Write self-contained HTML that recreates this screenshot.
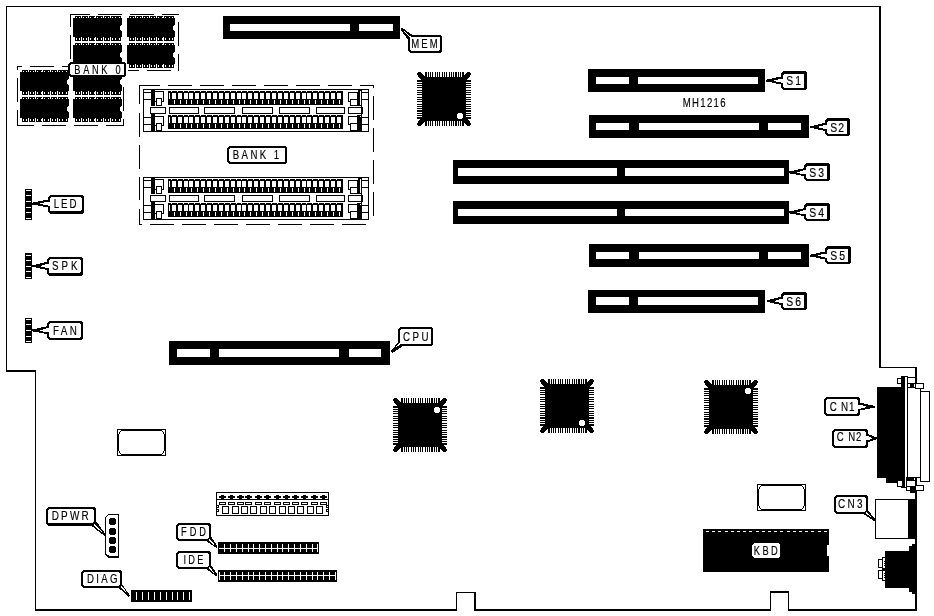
<!DOCTYPE html>
<html><head><meta charset="utf-8"><title>Board</title>
<style>
html,body{margin:0;padding:0;background:#fff;}
svg{display:block;}
text{font-family:"Liberation Sans",sans-serif;stroke:#000;stroke-width:0.18px;}
</style></head>
<body>
<svg width="934" height="616" viewBox="0 0 934 616">
<rect width="934" height="616" fill="#fff"/>
<g shape-rendering="crispEdges">
<rect x="6" y="6" width="875" height="1" fill="#000"/>
<rect x="879" y="6" width="2" height="362" fill="#000"/>
<rect x="879" y="367" width="38" height="1" fill="#000"/>
<rect x="915" y="367" width="2" height="244" fill="#000"/>
<rect x="6" y="6" width="1" height="366" fill="#000"/>
<rect x="6" y="370" width="30" height="2" fill="#000"/>
<rect x="35" y="370" width="1" height="241" fill="#000"/>
<rect x="35" y="609" width="422" height="2" fill="#000"/>
<rect x="456" y="592" width="1" height="19" fill="#000"/>
<rect x="456" y="592" width="20" height="1" fill="#000"/>
<rect x="474" y="592" width="2" height="19" fill="#000"/>
<rect x="474" y="609" width="297" height="2" fill="#000"/>
<rect x="770" y="591" width="1" height="20" fill="#000"/>
<rect x="770" y="591" width="19" height="2" fill="#000"/>
<rect x="788" y="591" width="1" height="20" fill="#000"/>
<rect x="788" y="609" width="129" height="2" fill="#000"/>
<rect x="73" y="18" width="49" height="19" fill="#000"/>
<rect x="75" y="16" width="46" height="2" fill="#000"/>
<rect x="75" y="37" width="46" height="4" fill="#000"/>
<rect x="76" y="17" width="1" height="1" fill="#fff"/>
<rect x="76" y="38" width="1" height="2" fill="#fff"/>
<rect x="79" y="17" width="1" height="1" fill="#fff"/>
<rect x="79" y="38" width="1" height="2" fill="#fff"/>
<rect x="83" y="17" width="1" height="1" fill="#fff"/>
<rect x="83" y="38" width="1" height="2" fill="#fff"/>
<rect x="81" y="16" width="1" height="2" fill="#fff"/>
<rect x="81" y="37" width="1" height="4" fill="#fff"/>
<rect x="86" y="17" width="1" height="1" fill="#fff"/>
<rect x="86" y="38" width="1" height="2" fill="#fff"/>
<rect x="90" y="17" width="1" height="1" fill="#fff"/>
<rect x="90" y="38" width="1" height="2" fill="#fff"/>
<rect x="88" y="16" width="1" height="2" fill="#fff"/>
<rect x="88" y="37" width="1" height="4" fill="#fff"/>
<rect x="94" y="17" width="1" height="1" fill="#fff"/>
<rect x="94" y="38" width="1" height="2" fill="#fff"/>
<rect x="97" y="17" width="1" height="1" fill="#fff"/>
<rect x="97" y="38" width="1" height="2" fill="#fff"/>
<rect x="95" y="16" width="1" height="2" fill="#fff"/>
<rect x="95" y="37" width="1" height="4" fill="#fff"/>
<rect x="101" y="17" width="1" height="1" fill="#fff"/>
<rect x="101" y="38" width="1" height="2" fill="#fff"/>
<rect x="105" y="17" width="1" height="1" fill="#fff"/>
<rect x="105" y="38" width="1" height="2" fill="#fff"/>
<rect x="103" y="16" width="1" height="2" fill="#fff"/>
<rect x="103" y="37" width="1" height="4" fill="#fff"/>
<rect x="108" y="17" width="1" height="1" fill="#fff"/>
<rect x="108" y="38" width="1" height="2" fill="#fff"/>
<rect x="112" y="17" width="1" height="1" fill="#fff"/>
<rect x="112" y="38" width="1" height="2" fill="#fff"/>
<rect x="110" y="16" width="1" height="2" fill="#fff"/>
<rect x="110" y="37" width="1" height="4" fill="#fff"/>
<rect x="115" y="17" width="1" height="1" fill="#fff"/>
<rect x="115" y="38" width="1" height="2" fill="#fff"/>
<rect x="119" y="17" width="1" height="1" fill="#fff"/>
<rect x="119" y="38" width="1" height="2" fill="#fff"/>
<rect x="120" y="26" width="2" height="4" fill="#fff"/>
<rect x="121" y="25" width="1" height="6" fill="#fff"/>
<rect x="127" y="18" width="48" height="19" fill="#000"/>
<rect x="129" y="16" width="45" height="2" fill="#000"/>
<rect x="129" y="37" width="45" height="4" fill="#000"/>
<rect x="130" y="17" width="1" height="1" fill="#fff"/>
<rect x="130" y="38" width="1" height="2" fill="#fff"/>
<rect x="133" y="17" width="1" height="1" fill="#fff"/>
<rect x="133" y="38" width="1" height="2" fill="#fff"/>
<rect x="137" y="17" width="1" height="1" fill="#fff"/>
<rect x="137" y="38" width="1" height="2" fill="#fff"/>
<rect x="135" y="16" width="1" height="2" fill="#fff"/>
<rect x="135" y="37" width="1" height="4" fill="#fff"/>
<rect x="140" y="17" width="1" height="1" fill="#fff"/>
<rect x="140" y="38" width="1" height="2" fill="#fff"/>
<rect x="144" y="17" width="1" height="1" fill="#fff"/>
<rect x="144" y="38" width="1" height="2" fill="#fff"/>
<rect x="142" y="16" width="1" height="2" fill="#fff"/>
<rect x="142" y="37" width="1" height="4" fill="#fff"/>
<rect x="147" y="17" width="1" height="1" fill="#fff"/>
<rect x="147" y="38" width="1" height="2" fill="#fff"/>
<rect x="151" y="17" width="1" height="1" fill="#fff"/>
<rect x="151" y="38" width="1" height="2" fill="#fff"/>
<rect x="149" y="16" width="1" height="2" fill="#fff"/>
<rect x="149" y="37" width="1" height="4" fill="#fff"/>
<rect x="154" y="17" width="1" height="1" fill="#fff"/>
<rect x="154" y="38" width="1" height="2" fill="#fff"/>
<rect x="158" y="17" width="1" height="1" fill="#fff"/>
<rect x="158" y="38" width="1" height="2" fill="#fff"/>
<rect x="156" y="16" width="1" height="2" fill="#fff"/>
<rect x="156" y="37" width="1" height="4" fill="#fff"/>
<rect x="162" y="17" width="1" height="1" fill="#fff"/>
<rect x="162" y="38" width="1" height="2" fill="#fff"/>
<rect x="165" y="17" width="1" height="1" fill="#fff"/>
<rect x="165" y="38" width="1" height="2" fill="#fff"/>
<rect x="163" y="16" width="1" height="2" fill="#fff"/>
<rect x="163" y="37" width="1" height="4" fill="#fff"/>
<rect x="169" y="17" width="1" height="1" fill="#fff"/>
<rect x="169" y="38" width="1" height="2" fill="#fff"/>
<rect x="172" y="17" width="1" height="1" fill="#fff"/>
<rect x="172" y="38" width="1" height="2" fill="#fff"/>
<rect x="173" y="26" width="2" height="4" fill="#fff"/>
<rect x="174" y="25" width="1" height="6" fill="#fff"/>
<rect x="73" y="45" width="49" height="19" fill="#000"/>
<rect x="75" y="43" width="46" height="2" fill="#000"/>
<rect x="75" y="64" width="46" height="4" fill="#000"/>
<rect x="76" y="44" width="1" height="1" fill="#fff"/>
<rect x="76" y="65" width="1" height="2" fill="#fff"/>
<rect x="79" y="44" width="1" height="1" fill="#fff"/>
<rect x="79" y="65" width="1" height="2" fill="#fff"/>
<rect x="83" y="44" width="1" height="1" fill="#fff"/>
<rect x="83" y="65" width="1" height="2" fill="#fff"/>
<rect x="81" y="43" width="1" height="2" fill="#fff"/>
<rect x="81" y="64" width="1" height="4" fill="#fff"/>
<rect x="86" y="44" width="1" height="1" fill="#fff"/>
<rect x="86" y="65" width="1" height="2" fill="#fff"/>
<rect x="90" y="44" width="1" height="1" fill="#fff"/>
<rect x="90" y="65" width="1" height="2" fill="#fff"/>
<rect x="88" y="43" width="1" height="2" fill="#fff"/>
<rect x="88" y="64" width="1" height="4" fill="#fff"/>
<rect x="94" y="44" width="1" height="1" fill="#fff"/>
<rect x="94" y="65" width="1" height="2" fill="#fff"/>
<rect x="97" y="44" width="1" height="1" fill="#fff"/>
<rect x="97" y="65" width="1" height="2" fill="#fff"/>
<rect x="95" y="43" width="1" height="2" fill="#fff"/>
<rect x="95" y="64" width="1" height="4" fill="#fff"/>
<rect x="101" y="44" width="1" height="1" fill="#fff"/>
<rect x="101" y="65" width="1" height="2" fill="#fff"/>
<rect x="105" y="44" width="1" height="1" fill="#fff"/>
<rect x="105" y="65" width="1" height="2" fill="#fff"/>
<rect x="103" y="43" width="1" height="2" fill="#fff"/>
<rect x="103" y="64" width="1" height="4" fill="#fff"/>
<rect x="108" y="44" width="1" height="1" fill="#fff"/>
<rect x="108" y="65" width="1" height="2" fill="#fff"/>
<rect x="112" y="44" width="1" height="1" fill="#fff"/>
<rect x="112" y="65" width="1" height="2" fill="#fff"/>
<rect x="110" y="43" width="1" height="2" fill="#fff"/>
<rect x="110" y="64" width="1" height="4" fill="#fff"/>
<rect x="115" y="44" width="1" height="1" fill="#fff"/>
<rect x="115" y="65" width="1" height="2" fill="#fff"/>
<rect x="119" y="44" width="1" height="1" fill="#fff"/>
<rect x="119" y="65" width="1" height="2" fill="#fff"/>
<rect x="120" y="53" width="2" height="4" fill="#fff"/>
<rect x="121" y="52" width="1" height="6" fill="#fff"/>
<rect x="127" y="45" width="48" height="19" fill="#000"/>
<rect x="129" y="43" width="45" height="2" fill="#000"/>
<rect x="129" y="64" width="45" height="4" fill="#000"/>
<rect x="130" y="44" width="1" height="1" fill="#fff"/>
<rect x="130" y="65" width="1" height="2" fill="#fff"/>
<rect x="133" y="44" width="1" height="1" fill="#fff"/>
<rect x="133" y="65" width="1" height="2" fill="#fff"/>
<rect x="137" y="44" width="1" height="1" fill="#fff"/>
<rect x="137" y="65" width="1" height="2" fill="#fff"/>
<rect x="135" y="43" width="1" height="2" fill="#fff"/>
<rect x="135" y="64" width="1" height="4" fill="#fff"/>
<rect x="140" y="44" width="1" height="1" fill="#fff"/>
<rect x="140" y="65" width="1" height="2" fill="#fff"/>
<rect x="144" y="44" width="1" height="1" fill="#fff"/>
<rect x="144" y="65" width="1" height="2" fill="#fff"/>
<rect x="142" y="43" width="1" height="2" fill="#fff"/>
<rect x="142" y="64" width="1" height="4" fill="#fff"/>
<rect x="147" y="44" width="1" height="1" fill="#fff"/>
<rect x="147" y="65" width="1" height="2" fill="#fff"/>
<rect x="151" y="44" width="1" height="1" fill="#fff"/>
<rect x="151" y="65" width="1" height="2" fill="#fff"/>
<rect x="149" y="43" width="1" height="2" fill="#fff"/>
<rect x="149" y="64" width="1" height="4" fill="#fff"/>
<rect x="154" y="44" width="1" height="1" fill="#fff"/>
<rect x="154" y="65" width="1" height="2" fill="#fff"/>
<rect x="158" y="44" width="1" height="1" fill="#fff"/>
<rect x="158" y="65" width="1" height="2" fill="#fff"/>
<rect x="156" y="43" width="1" height="2" fill="#fff"/>
<rect x="156" y="64" width="1" height="4" fill="#fff"/>
<rect x="162" y="44" width="1" height="1" fill="#fff"/>
<rect x="162" y="65" width="1" height="2" fill="#fff"/>
<rect x="165" y="44" width="1" height="1" fill="#fff"/>
<rect x="165" y="65" width="1" height="2" fill="#fff"/>
<rect x="163" y="43" width="1" height="2" fill="#fff"/>
<rect x="163" y="64" width="1" height="4" fill="#fff"/>
<rect x="169" y="44" width="1" height="1" fill="#fff"/>
<rect x="169" y="65" width="1" height="2" fill="#fff"/>
<rect x="172" y="44" width="1" height="1" fill="#fff"/>
<rect x="172" y="65" width="1" height="2" fill="#fff"/>
<rect x="173" y="53" width="2" height="4" fill="#fff"/>
<rect x="174" y="52" width="1" height="6" fill="#fff"/>
<rect x="20" y="72" width="49" height="19" fill="#000"/>
<rect x="22" y="70" width="46" height="2" fill="#000"/>
<rect x="22" y="91" width="46" height="4" fill="#000"/>
<rect x="23" y="71" width="1" height="1" fill="#fff"/>
<rect x="23" y="92" width="1" height="2" fill="#fff"/>
<rect x="26" y="71" width="1" height="1" fill="#fff"/>
<rect x="26" y="92" width="1" height="2" fill="#fff"/>
<rect x="30" y="71" width="1" height="1" fill="#fff"/>
<rect x="30" y="92" width="1" height="2" fill="#fff"/>
<rect x="28" y="70" width="1" height="2" fill="#fff"/>
<rect x="28" y="91" width="1" height="4" fill="#fff"/>
<rect x="33" y="71" width="1" height="1" fill="#fff"/>
<rect x="33" y="92" width="1" height="2" fill="#fff"/>
<rect x="37" y="71" width="1" height="1" fill="#fff"/>
<rect x="37" y="92" width="1" height="2" fill="#fff"/>
<rect x="35" y="70" width="1" height="2" fill="#fff"/>
<rect x="35" y="91" width="1" height="4" fill="#fff"/>
<rect x="41" y="71" width="1" height="1" fill="#fff"/>
<rect x="41" y="92" width="1" height="2" fill="#fff"/>
<rect x="44" y="71" width="1" height="1" fill="#fff"/>
<rect x="44" y="92" width="1" height="2" fill="#fff"/>
<rect x="42" y="70" width="1" height="2" fill="#fff"/>
<rect x="42" y="91" width="1" height="4" fill="#fff"/>
<rect x="48" y="71" width="1" height="1" fill="#fff"/>
<rect x="48" y="92" width="1" height="2" fill="#fff"/>
<rect x="52" y="71" width="1" height="1" fill="#fff"/>
<rect x="52" y="92" width="1" height="2" fill="#fff"/>
<rect x="50" y="70" width="1" height="2" fill="#fff"/>
<rect x="50" y="91" width="1" height="4" fill="#fff"/>
<rect x="55" y="71" width="1" height="1" fill="#fff"/>
<rect x="55" y="92" width="1" height="2" fill="#fff"/>
<rect x="59" y="71" width="1" height="1" fill="#fff"/>
<rect x="59" y="92" width="1" height="2" fill="#fff"/>
<rect x="57" y="70" width="1" height="2" fill="#fff"/>
<rect x="57" y="91" width="1" height="4" fill="#fff"/>
<rect x="62" y="71" width="1" height="1" fill="#fff"/>
<rect x="62" y="92" width="1" height="2" fill="#fff"/>
<rect x="66" y="71" width="1" height="1" fill="#fff"/>
<rect x="66" y="92" width="1" height="2" fill="#fff"/>
<rect x="67" y="80" width="2" height="4" fill="#fff"/>
<rect x="68" y="79" width="1" height="6" fill="#fff"/>
<rect x="73" y="72" width="49" height="19" fill="#000"/>
<rect x="75" y="70" width="46" height="2" fill="#000"/>
<rect x="75" y="91" width="46" height="4" fill="#000"/>
<rect x="76" y="71" width="1" height="1" fill="#fff"/>
<rect x="76" y="92" width="1" height="2" fill="#fff"/>
<rect x="79" y="71" width="1" height="1" fill="#fff"/>
<rect x="79" y="92" width="1" height="2" fill="#fff"/>
<rect x="83" y="71" width="1" height="1" fill="#fff"/>
<rect x="83" y="92" width="1" height="2" fill="#fff"/>
<rect x="81" y="70" width="1" height="2" fill="#fff"/>
<rect x="81" y="91" width="1" height="4" fill="#fff"/>
<rect x="86" y="71" width="1" height="1" fill="#fff"/>
<rect x="86" y="92" width="1" height="2" fill="#fff"/>
<rect x="90" y="71" width="1" height="1" fill="#fff"/>
<rect x="90" y="92" width="1" height="2" fill="#fff"/>
<rect x="88" y="70" width="1" height="2" fill="#fff"/>
<rect x="88" y="91" width="1" height="4" fill="#fff"/>
<rect x="94" y="71" width="1" height="1" fill="#fff"/>
<rect x="94" y="92" width="1" height="2" fill="#fff"/>
<rect x="97" y="71" width="1" height="1" fill="#fff"/>
<rect x="97" y="92" width="1" height="2" fill="#fff"/>
<rect x="95" y="70" width="1" height="2" fill="#fff"/>
<rect x="95" y="91" width="1" height="4" fill="#fff"/>
<rect x="101" y="71" width="1" height="1" fill="#fff"/>
<rect x="101" y="92" width="1" height="2" fill="#fff"/>
<rect x="105" y="71" width="1" height="1" fill="#fff"/>
<rect x="105" y="92" width="1" height="2" fill="#fff"/>
<rect x="103" y="70" width="1" height="2" fill="#fff"/>
<rect x="103" y="91" width="1" height="4" fill="#fff"/>
<rect x="108" y="71" width="1" height="1" fill="#fff"/>
<rect x="108" y="92" width="1" height="2" fill="#fff"/>
<rect x="112" y="71" width="1" height="1" fill="#fff"/>
<rect x="112" y="92" width="1" height="2" fill="#fff"/>
<rect x="110" y="70" width="1" height="2" fill="#fff"/>
<rect x="110" y="91" width="1" height="4" fill="#fff"/>
<rect x="115" y="71" width="1" height="1" fill="#fff"/>
<rect x="115" y="92" width="1" height="2" fill="#fff"/>
<rect x="119" y="71" width="1" height="1" fill="#fff"/>
<rect x="119" y="92" width="1" height="2" fill="#fff"/>
<rect x="120" y="80" width="2" height="4" fill="#fff"/>
<rect x="121" y="79" width="1" height="6" fill="#fff"/>
<rect x="20" y="99" width="49" height="19" fill="#000"/>
<rect x="22" y="97" width="46" height="2" fill="#000"/>
<rect x="22" y="118" width="46" height="4" fill="#000"/>
<rect x="23" y="98" width="1" height="1" fill="#fff"/>
<rect x="23" y="119" width="1" height="2" fill="#fff"/>
<rect x="26" y="98" width="1" height="1" fill="#fff"/>
<rect x="26" y="119" width="1" height="2" fill="#fff"/>
<rect x="30" y="98" width="1" height="1" fill="#fff"/>
<rect x="30" y="119" width="1" height="2" fill="#fff"/>
<rect x="28" y="97" width="1" height="2" fill="#fff"/>
<rect x="28" y="118" width="1" height="4" fill="#fff"/>
<rect x="33" y="98" width="1" height="1" fill="#fff"/>
<rect x="33" y="119" width="1" height="2" fill="#fff"/>
<rect x="37" y="98" width="1" height="1" fill="#fff"/>
<rect x="37" y="119" width="1" height="2" fill="#fff"/>
<rect x="35" y="97" width="1" height="2" fill="#fff"/>
<rect x="35" y="118" width="1" height="4" fill="#fff"/>
<rect x="41" y="98" width="1" height="1" fill="#fff"/>
<rect x="41" y="119" width="1" height="2" fill="#fff"/>
<rect x="44" y="98" width="1" height="1" fill="#fff"/>
<rect x="44" y="119" width="1" height="2" fill="#fff"/>
<rect x="42" y="97" width="1" height="2" fill="#fff"/>
<rect x="42" y="118" width="1" height="4" fill="#fff"/>
<rect x="48" y="98" width="1" height="1" fill="#fff"/>
<rect x="48" y="119" width="1" height="2" fill="#fff"/>
<rect x="52" y="98" width="1" height="1" fill="#fff"/>
<rect x="52" y="119" width="1" height="2" fill="#fff"/>
<rect x="50" y="97" width="1" height="2" fill="#fff"/>
<rect x="50" y="118" width="1" height="4" fill="#fff"/>
<rect x="55" y="98" width="1" height="1" fill="#fff"/>
<rect x="55" y="119" width="1" height="2" fill="#fff"/>
<rect x="59" y="98" width="1" height="1" fill="#fff"/>
<rect x="59" y="119" width="1" height="2" fill="#fff"/>
<rect x="57" y="97" width="1" height="2" fill="#fff"/>
<rect x="57" y="118" width="1" height="4" fill="#fff"/>
<rect x="62" y="98" width="1" height="1" fill="#fff"/>
<rect x="62" y="119" width="1" height="2" fill="#fff"/>
<rect x="66" y="98" width="1" height="1" fill="#fff"/>
<rect x="66" y="119" width="1" height="2" fill="#fff"/>
<rect x="67" y="107" width="2" height="4" fill="#fff"/>
<rect x="68" y="106" width="1" height="6" fill="#fff"/>
<rect x="73" y="99" width="49" height="19" fill="#000"/>
<rect x="75" y="97" width="46" height="2" fill="#000"/>
<rect x="75" y="118" width="46" height="4" fill="#000"/>
<rect x="76" y="98" width="1" height="1" fill="#fff"/>
<rect x="76" y="119" width="1" height="2" fill="#fff"/>
<rect x="79" y="98" width="1" height="1" fill="#fff"/>
<rect x="79" y="119" width="1" height="2" fill="#fff"/>
<rect x="83" y="98" width="1" height="1" fill="#fff"/>
<rect x="83" y="119" width="1" height="2" fill="#fff"/>
<rect x="81" y="97" width="1" height="2" fill="#fff"/>
<rect x="81" y="118" width="1" height="4" fill="#fff"/>
<rect x="86" y="98" width="1" height="1" fill="#fff"/>
<rect x="86" y="119" width="1" height="2" fill="#fff"/>
<rect x="90" y="98" width="1" height="1" fill="#fff"/>
<rect x="90" y="119" width="1" height="2" fill="#fff"/>
<rect x="88" y="97" width="1" height="2" fill="#fff"/>
<rect x="88" y="118" width="1" height="4" fill="#fff"/>
<rect x="94" y="98" width="1" height="1" fill="#fff"/>
<rect x="94" y="119" width="1" height="2" fill="#fff"/>
<rect x="97" y="98" width="1" height="1" fill="#fff"/>
<rect x="97" y="119" width="1" height="2" fill="#fff"/>
<rect x="95" y="97" width="1" height="2" fill="#fff"/>
<rect x="95" y="118" width="1" height="4" fill="#fff"/>
<rect x="101" y="98" width="1" height="1" fill="#fff"/>
<rect x="101" y="119" width="1" height="2" fill="#fff"/>
<rect x="105" y="98" width="1" height="1" fill="#fff"/>
<rect x="105" y="119" width="1" height="2" fill="#fff"/>
<rect x="103" y="97" width="1" height="2" fill="#fff"/>
<rect x="103" y="118" width="1" height="4" fill="#fff"/>
<rect x="108" y="98" width="1" height="1" fill="#fff"/>
<rect x="108" y="119" width="1" height="2" fill="#fff"/>
<rect x="112" y="98" width="1" height="1" fill="#fff"/>
<rect x="112" y="119" width="1" height="2" fill="#fff"/>
<rect x="110" y="97" width="1" height="2" fill="#fff"/>
<rect x="110" y="118" width="1" height="4" fill="#fff"/>
<rect x="115" y="98" width="1" height="1" fill="#fff"/>
<rect x="115" y="119" width="1" height="2" fill="#fff"/>
<rect x="119" y="98" width="1" height="1" fill="#fff"/>
<rect x="119" y="119" width="1" height="2" fill="#fff"/>
<rect x="120" y="107" width="2" height="4" fill="#fff"/>
<rect x="121" y="106" width="1" height="6" fill="#fff"/>
<rect x="70" y="14" width="20" height="1" fill="#000"/>
<rect x="98" y="14" width="24" height="1" fill="#000"/>
<rect x="130" y="14" width="24" height="1" fill="#000"/>
<rect x="162" y="14" width="17" height="1" fill="#000"/>
<rect x="178" y="22" width="1" height="24" fill="#000"/>
<rect x="178" y="54" width="1" height="17" fill="#000"/>
<rect x="128" y="70" width="11" height="1" fill="#000"/>
<rect x="147" y="70" width="24" height="1" fill="#000"/>
<rect x="70" y="14" width="1" height="13" fill="#000"/>
<rect x="70" y="35" width="1" height="24" fill="#000"/>
<rect x="17" y="66" width="5" height="1" fill="#000"/>
<rect x="30" y="66" width="24" height="1" fill="#000"/>
<rect x="62" y="66" width="7" height="1" fill="#000"/>
<rect x="17" y="66" width="1" height="4" fill="#000"/>
<rect x="17" y="78" width="1" height="24" fill="#000"/>
<rect x="17" y="110" width="1" height="16" fill="#000"/>
<rect x="17" y="125" width="17" height="1" fill="#000"/>
<rect x="42" y="125" width="24" height="1" fill="#000"/>
<rect x="74" y="125" width="24" height="1" fill="#000"/>
<rect x="106" y="125" width="18" height="1" fill="#000"/>
<rect x="123" y="87" width="1" height="24" fill="#000"/>
<rect x="123" y="119" width="1" height="7" fill="#000"/>
<path d="M70 62L124 62L126 64L126 75L124 77L70 77L68 75L68 64Z" fill="#000" />
<path d="M71 64L123 64L124 65L124 74L123 75L71 75L70 74L70 65Z" fill="#fff" />
<rect x="143" y="89" width="226" height="43" fill="#000"/>
<rect x="144" y="90" width="224" height="41" fill="#fff"/>
<rect x="168" y="91" width="175" height="14" fill="#000"/>
<rect x="169" y="93" width="1" height="6" fill="#fff"/>
<rect x="172" y="93" width="4" height="6" fill="#fff"/>
<rect x="174" y="100" width="1" height="4" fill="#fff"/>
<rect x="171" y="91" width="1" height="1" fill="#fff"/>
<rect x="178" y="93" width="4" height="6" fill="#fff"/>
<rect x="180" y="100" width="1" height="4" fill="#fff"/>
<rect x="177" y="91" width="1" height="1" fill="#fff"/>
<rect x="184" y="93" width="4" height="6" fill="#fff"/>
<rect x="186" y="100" width="1" height="4" fill="#fff"/>
<rect x="183" y="91" width="1" height="1" fill="#fff"/>
<rect x="189" y="93" width="4" height="6" fill="#fff"/>
<rect x="191" y="100" width="1" height="4" fill="#fff"/>
<rect x="188" y="91" width="1" height="1" fill="#fff"/>
<rect x="195" y="93" width="4" height="6" fill="#fff"/>
<rect x="197" y="100" width="1" height="4" fill="#fff"/>
<rect x="194" y="91" width="1" height="1" fill="#fff"/>
<rect x="201" y="93" width="4" height="6" fill="#fff"/>
<rect x="203" y="100" width="1" height="4" fill="#fff"/>
<rect x="200" y="91" width="1" height="1" fill="#fff"/>
<rect x="207" y="93" width="4" height="6" fill="#fff"/>
<rect x="209" y="100" width="1" height="4" fill="#fff"/>
<rect x="206" y="91" width="1" height="1" fill="#fff"/>
<rect x="213" y="93" width="4" height="6" fill="#fff"/>
<rect x="215" y="100" width="1" height="4" fill="#fff"/>
<rect x="212" y="91" width="1" height="1" fill="#fff"/>
<rect x="219" y="93" width="4" height="6" fill="#fff"/>
<rect x="221" y="100" width="1" height="4" fill="#fff"/>
<rect x="218" y="91" width="1" height="1" fill="#fff"/>
<rect x="225" y="93" width="4" height="6" fill="#fff"/>
<rect x="227" y="100" width="1" height="4" fill="#fff"/>
<rect x="224" y="91" width="1" height="1" fill="#fff"/>
<rect x="231" y="93" width="4" height="6" fill="#fff"/>
<rect x="233" y="100" width="1" height="4" fill="#fff"/>
<rect x="230" y="91" width="1" height="1" fill="#fff"/>
<rect x="237" y="93" width="4" height="6" fill="#fff"/>
<rect x="239" y="100" width="1" height="4" fill="#fff"/>
<rect x="236" y="91" width="1" height="1" fill="#fff"/>
<rect x="242" y="93" width="4" height="6" fill="#fff"/>
<rect x="244" y="100" width="1" height="4" fill="#fff"/>
<rect x="241" y="91" width="1" height="1" fill="#fff"/>
<rect x="248" y="93" width="4" height="6" fill="#fff"/>
<rect x="250" y="100" width="1" height="4" fill="#fff"/>
<rect x="247" y="91" width="1" height="1" fill="#fff"/>
<rect x="254" y="93" width="4" height="6" fill="#fff"/>
<rect x="256" y="100" width="1" height="4" fill="#fff"/>
<rect x="253" y="91" width="1" height="1" fill="#fff"/>
<rect x="260" y="93" width="4" height="6" fill="#fff"/>
<rect x="262" y="100" width="1" height="4" fill="#fff"/>
<rect x="259" y="91" width="1" height="1" fill="#fff"/>
<rect x="266" y="93" width="4" height="6" fill="#fff"/>
<rect x="268" y="100" width="1" height="4" fill="#fff"/>
<rect x="265" y="91" width="1" height="1" fill="#fff"/>
<rect x="272" y="93" width="4" height="6" fill="#fff"/>
<rect x="274" y="100" width="1" height="4" fill="#fff"/>
<rect x="271" y="91" width="1" height="1" fill="#fff"/>
<rect x="278" y="93" width="4" height="6" fill="#fff"/>
<rect x="280" y="100" width="1" height="4" fill="#fff"/>
<rect x="277" y="91" width="1" height="1" fill="#fff"/>
<rect x="284" y="93" width="4" height="6" fill="#fff"/>
<rect x="286" y="100" width="1" height="4" fill="#fff"/>
<rect x="283" y="91" width="1" height="1" fill="#fff"/>
<rect x="290" y="93" width="4" height="6" fill="#fff"/>
<rect x="292" y="100" width="1" height="4" fill="#fff"/>
<rect x="289" y="91" width="1" height="1" fill="#fff"/>
<rect x="296" y="93" width="4" height="6" fill="#fff"/>
<rect x="298" y="100" width="1" height="4" fill="#fff"/>
<rect x="295" y="91" width="1" height="1" fill="#fff"/>
<rect x="302" y="93" width="4" height="6" fill="#fff"/>
<rect x="304" y="100" width="1" height="4" fill="#fff"/>
<rect x="301" y="91" width="1" height="1" fill="#fff"/>
<rect x="307" y="93" width="4" height="6" fill="#fff"/>
<rect x="309" y="100" width="1" height="4" fill="#fff"/>
<rect x="306" y="91" width="1" height="1" fill="#fff"/>
<rect x="313" y="93" width="4" height="6" fill="#fff"/>
<rect x="315" y="100" width="1" height="4" fill="#fff"/>
<rect x="312" y="91" width="1" height="1" fill="#fff"/>
<rect x="319" y="93" width="4" height="6" fill="#fff"/>
<rect x="321" y="100" width="1" height="4" fill="#fff"/>
<rect x="318" y="91" width="1" height="1" fill="#fff"/>
<rect x="325" y="93" width="4" height="6" fill="#fff"/>
<rect x="327" y="100" width="1" height="4" fill="#fff"/>
<rect x="324" y="91" width="1" height="1" fill="#fff"/>
<rect x="331" y="93" width="4" height="6" fill="#fff"/>
<rect x="333" y="100" width="1" height="4" fill="#fff"/>
<rect x="330" y="91" width="1" height="1" fill="#fff"/>
<rect x="337" y="93" width="4" height="6" fill="#fff"/>
<rect x="339" y="100" width="1" height="4" fill="#fff"/>
<rect x="336" y="91" width="1" height="1" fill="#fff"/>
<rect x="168" y="115" width="175" height="14" fill="#000"/>
<rect x="169" y="117" width="1" height="6" fill="#fff"/>
<rect x="172" y="117" width="4" height="6" fill="#fff"/>
<rect x="174" y="124" width="1" height="4" fill="#fff"/>
<rect x="171" y="115" width="1" height="1" fill="#fff"/>
<rect x="178" y="117" width="4" height="6" fill="#fff"/>
<rect x="180" y="124" width="1" height="4" fill="#fff"/>
<rect x="177" y="115" width="1" height="1" fill="#fff"/>
<rect x="184" y="117" width="4" height="6" fill="#fff"/>
<rect x="186" y="124" width="1" height="4" fill="#fff"/>
<rect x="183" y="115" width="1" height="1" fill="#fff"/>
<rect x="189" y="117" width="4" height="6" fill="#fff"/>
<rect x="191" y="124" width="1" height="4" fill="#fff"/>
<rect x="188" y="115" width="1" height="1" fill="#fff"/>
<rect x="195" y="117" width="4" height="6" fill="#fff"/>
<rect x="197" y="124" width="1" height="4" fill="#fff"/>
<rect x="194" y="115" width="1" height="1" fill="#fff"/>
<rect x="201" y="117" width="4" height="6" fill="#fff"/>
<rect x="203" y="124" width="1" height="4" fill="#fff"/>
<rect x="200" y="115" width="1" height="1" fill="#fff"/>
<rect x="207" y="117" width="4" height="6" fill="#fff"/>
<rect x="209" y="124" width="1" height="4" fill="#fff"/>
<rect x="206" y="115" width="1" height="1" fill="#fff"/>
<rect x="213" y="117" width="4" height="6" fill="#fff"/>
<rect x="215" y="124" width="1" height="4" fill="#fff"/>
<rect x="212" y="115" width="1" height="1" fill="#fff"/>
<rect x="219" y="117" width="4" height="6" fill="#fff"/>
<rect x="221" y="124" width="1" height="4" fill="#fff"/>
<rect x="218" y="115" width="1" height="1" fill="#fff"/>
<rect x="225" y="117" width="4" height="6" fill="#fff"/>
<rect x="227" y="124" width="1" height="4" fill="#fff"/>
<rect x="224" y="115" width="1" height="1" fill="#fff"/>
<rect x="231" y="117" width="4" height="6" fill="#fff"/>
<rect x="233" y="124" width="1" height="4" fill="#fff"/>
<rect x="230" y="115" width="1" height="1" fill="#fff"/>
<rect x="237" y="117" width="4" height="6" fill="#fff"/>
<rect x="239" y="124" width="1" height="4" fill="#fff"/>
<rect x="236" y="115" width="1" height="1" fill="#fff"/>
<rect x="242" y="117" width="4" height="6" fill="#fff"/>
<rect x="244" y="124" width="1" height="4" fill="#fff"/>
<rect x="241" y="115" width="1" height="1" fill="#fff"/>
<rect x="248" y="117" width="4" height="6" fill="#fff"/>
<rect x="250" y="124" width="1" height="4" fill="#fff"/>
<rect x="247" y="115" width="1" height="1" fill="#fff"/>
<rect x="254" y="117" width="4" height="6" fill="#fff"/>
<rect x="256" y="124" width="1" height="4" fill="#fff"/>
<rect x="253" y="115" width="1" height="1" fill="#fff"/>
<rect x="260" y="117" width="4" height="6" fill="#fff"/>
<rect x="262" y="124" width="1" height="4" fill="#fff"/>
<rect x="259" y="115" width="1" height="1" fill="#fff"/>
<rect x="266" y="117" width="4" height="6" fill="#fff"/>
<rect x="268" y="124" width="1" height="4" fill="#fff"/>
<rect x="265" y="115" width="1" height="1" fill="#fff"/>
<rect x="272" y="117" width="4" height="6" fill="#fff"/>
<rect x="274" y="124" width="1" height="4" fill="#fff"/>
<rect x="271" y="115" width="1" height="1" fill="#fff"/>
<rect x="278" y="117" width="4" height="6" fill="#fff"/>
<rect x="280" y="124" width="1" height="4" fill="#fff"/>
<rect x="277" y="115" width="1" height="1" fill="#fff"/>
<rect x="284" y="117" width="4" height="6" fill="#fff"/>
<rect x="286" y="124" width="1" height="4" fill="#fff"/>
<rect x="283" y="115" width="1" height="1" fill="#fff"/>
<rect x="290" y="117" width="4" height="6" fill="#fff"/>
<rect x="292" y="124" width="1" height="4" fill="#fff"/>
<rect x="289" y="115" width="1" height="1" fill="#fff"/>
<rect x="296" y="117" width="4" height="6" fill="#fff"/>
<rect x="298" y="124" width="1" height="4" fill="#fff"/>
<rect x="295" y="115" width="1" height="1" fill="#fff"/>
<rect x="302" y="117" width="4" height="6" fill="#fff"/>
<rect x="304" y="124" width="1" height="4" fill="#fff"/>
<rect x="301" y="115" width="1" height="1" fill="#fff"/>
<rect x="307" y="117" width="4" height="6" fill="#fff"/>
<rect x="309" y="124" width="1" height="4" fill="#fff"/>
<rect x="306" y="115" width="1" height="1" fill="#fff"/>
<rect x="313" y="117" width="4" height="6" fill="#fff"/>
<rect x="315" y="124" width="1" height="4" fill="#fff"/>
<rect x="312" y="115" width="1" height="1" fill="#fff"/>
<rect x="319" y="117" width="4" height="6" fill="#fff"/>
<rect x="321" y="124" width="1" height="4" fill="#fff"/>
<rect x="318" y="115" width="1" height="1" fill="#fff"/>
<rect x="325" y="117" width="4" height="6" fill="#fff"/>
<rect x="327" y="124" width="1" height="4" fill="#fff"/>
<rect x="324" y="115" width="1" height="1" fill="#fff"/>
<rect x="331" y="117" width="4" height="6" fill="#fff"/>
<rect x="333" y="124" width="1" height="4" fill="#fff"/>
<rect x="330" y="115" width="1" height="1" fill="#fff"/>
<rect x="337" y="117" width="4" height="6" fill="#fff"/>
<rect x="339" y="124" width="1" height="4" fill="#fff"/>
<rect x="336" y="115" width="1" height="1" fill="#fff"/>
<rect x="150" y="107" width="16" height="7" fill="#000"/>
<rect x="151" y="108" width="14" height="5" fill="#fff"/>
<rect x="169" y="107" width="30" height="7" fill="#000"/>
<rect x="170" y="108" width="28" height="5" fill="#fff"/>
<rect x="204" y="107" width="31" height="7" fill="#000"/>
<rect x="205" y="108" width="29" height="5" fill="#fff"/>
<rect x="242" y="107" width="31" height="7" fill="#000"/>
<rect x="243" y="108" width="29" height="5" fill="#fff"/>
<rect x="279" y="107" width="31" height="7" fill="#000"/>
<rect x="280" y="108" width="29" height="5" fill="#fff"/>
<rect x="316" y="107" width="29" height="7" fill="#000"/>
<rect x="317" y="108" width="27" height="5" fill="#fff"/>
<rect x="348" y="107" width="15" height="7" fill="#000"/>
<rect x="349" y="108" width="13" height="5" fill="#fff"/>
<rect x="143" y="92" width="8" height="1" fill="#000"/>
<rect x="143" y="99" width="8" height="1" fill="#000"/>
<rect x="143" y="117" width="8" height="1" fill="#000"/>
<rect x="143" y="124" width="8" height="1" fill="#000"/>
<rect x="151" y="89" width="4" height="17" fill="#000"/>
<rect x="151" y="114" width="4" height="18" fill="#000"/>
<rect x="154" y="91" width="10" height="11" fill="#000"/>
<rect x="155" y="92" width="8" height="9" fill="#fff"/>
<rect x="156" y="98" width="6" height="8" fill="#000"/>
<rect x="157" y="99" width="4" height="6" fill="#fff"/>
<rect x="154" y="116" width="10" height="10" fill="#000"/>
<rect x="155" y="117" width="8" height="8" fill="#fff"/>
<rect x="156" y="123" width="6" height="8" fill="#000"/>
<rect x="157" y="124" width="4" height="6" fill="#fff"/>
<rect x="362" y="92" width="7" height="1" fill="#000"/>
<rect x="362" y="99" width="7" height="1" fill="#000"/>
<rect x="362" y="117" width="7" height="1" fill="#000"/>
<rect x="362" y="124" width="7" height="1" fill="#000"/>
<rect x="361" y="89" width="1" height="43" fill="#000"/>
<rect x="358" y="89" width="3" height="17" fill="#000"/>
<rect x="360" y="91" width="1" height="14" fill="#fff"/>
<rect x="357" y="115" width="4" height="17" fill="#000"/>
<rect x="360" y="116" width="1" height="1" fill="#fff"/>
<rect x="348" y="92" width="10" height="10" fill="#000"/>
<rect x="349" y="93" width="8" height="8" fill="#fff"/>
<rect x="350" y="99" width="8" height="7" fill="#000"/>
<rect x="351" y="100" width="6" height="5" fill="#fff"/>
<rect x="348" y="116" width="10" height="9" fill="#000"/>
<rect x="349" y="117" width="8" height="7" fill="#fff"/>
<rect x="350" y="123" width="8" height="8" fill="#000"/>
<rect x="351" y="124" width="6" height="6" fill="#fff"/>
<rect x="143" y="177" width="226" height="43" fill="#000"/>
<rect x="144" y="178" width="224" height="41" fill="#fff"/>
<rect x="168" y="179" width="175" height="14" fill="#000"/>
<rect x="169" y="181" width="1" height="6" fill="#fff"/>
<rect x="172" y="181" width="4" height="6" fill="#fff"/>
<rect x="174" y="188" width="1" height="4" fill="#fff"/>
<rect x="171" y="179" width="1" height="1" fill="#fff"/>
<rect x="178" y="181" width="4" height="6" fill="#fff"/>
<rect x="180" y="188" width="1" height="4" fill="#fff"/>
<rect x="177" y="179" width="1" height="1" fill="#fff"/>
<rect x="184" y="181" width="4" height="6" fill="#fff"/>
<rect x="186" y="188" width="1" height="4" fill="#fff"/>
<rect x="183" y="179" width="1" height="1" fill="#fff"/>
<rect x="189" y="181" width="4" height="6" fill="#fff"/>
<rect x="191" y="188" width="1" height="4" fill="#fff"/>
<rect x="188" y="179" width="1" height="1" fill="#fff"/>
<rect x="195" y="181" width="4" height="6" fill="#fff"/>
<rect x="197" y="188" width="1" height="4" fill="#fff"/>
<rect x="194" y="179" width="1" height="1" fill="#fff"/>
<rect x="201" y="181" width="4" height="6" fill="#fff"/>
<rect x="203" y="188" width="1" height="4" fill="#fff"/>
<rect x="200" y="179" width="1" height="1" fill="#fff"/>
<rect x="207" y="181" width="4" height="6" fill="#fff"/>
<rect x="209" y="188" width="1" height="4" fill="#fff"/>
<rect x="206" y="179" width="1" height="1" fill="#fff"/>
<rect x="213" y="181" width="4" height="6" fill="#fff"/>
<rect x="215" y="188" width="1" height="4" fill="#fff"/>
<rect x="212" y="179" width="1" height="1" fill="#fff"/>
<rect x="219" y="181" width="4" height="6" fill="#fff"/>
<rect x="221" y="188" width="1" height="4" fill="#fff"/>
<rect x="218" y="179" width="1" height="1" fill="#fff"/>
<rect x="225" y="181" width="4" height="6" fill="#fff"/>
<rect x="227" y="188" width="1" height="4" fill="#fff"/>
<rect x="224" y="179" width="1" height="1" fill="#fff"/>
<rect x="231" y="181" width="4" height="6" fill="#fff"/>
<rect x="233" y="188" width="1" height="4" fill="#fff"/>
<rect x="230" y="179" width="1" height="1" fill="#fff"/>
<rect x="237" y="181" width="4" height="6" fill="#fff"/>
<rect x="239" y="188" width="1" height="4" fill="#fff"/>
<rect x="236" y="179" width="1" height="1" fill="#fff"/>
<rect x="242" y="181" width="4" height="6" fill="#fff"/>
<rect x="244" y="188" width="1" height="4" fill="#fff"/>
<rect x="241" y="179" width="1" height="1" fill="#fff"/>
<rect x="248" y="181" width="4" height="6" fill="#fff"/>
<rect x="250" y="188" width="1" height="4" fill="#fff"/>
<rect x="247" y="179" width="1" height="1" fill="#fff"/>
<rect x="254" y="181" width="4" height="6" fill="#fff"/>
<rect x="256" y="188" width="1" height="4" fill="#fff"/>
<rect x="253" y="179" width="1" height="1" fill="#fff"/>
<rect x="260" y="181" width="4" height="6" fill="#fff"/>
<rect x="262" y="188" width="1" height="4" fill="#fff"/>
<rect x="259" y="179" width="1" height="1" fill="#fff"/>
<rect x="266" y="181" width="4" height="6" fill="#fff"/>
<rect x="268" y="188" width="1" height="4" fill="#fff"/>
<rect x="265" y="179" width="1" height="1" fill="#fff"/>
<rect x="272" y="181" width="4" height="6" fill="#fff"/>
<rect x="274" y="188" width="1" height="4" fill="#fff"/>
<rect x="271" y="179" width="1" height="1" fill="#fff"/>
<rect x="278" y="181" width="4" height="6" fill="#fff"/>
<rect x="280" y="188" width="1" height="4" fill="#fff"/>
<rect x="277" y="179" width="1" height="1" fill="#fff"/>
<rect x="284" y="181" width="4" height="6" fill="#fff"/>
<rect x="286" y="188" width="1" height="4" fill="#fff"/>
<rect x="283" y="179" width="1" height="1" fill="#fff"/>
<rect x="290" y="181" width="4" height="6" fill="#fff"/>
<rect x="292" y="188" width="1" height="4" fill="#fff"/>
<rect x="289" y="179" width="1" height="1" fill="#fff"/>
<rect x="296" y="181" width="4" height="6" fill="#fff"/>
<rect x="298" y="188" width="1" height="4" fill="#fff"/>
<rect x="295" y="179" width="1" height="1" fill="#fff"/>
<rect x="302" y="181" width="4" height="6" fill="#fff"/>
<rect x="304" y="188" width="1" height="4" fill="#fff"/>
<rect x="301" y="179" width="1" height="1" fill="#fff"/>
<rect x="307" y="181" width="4" height="6" fill="#fff"/>
<rect x="309" y="188" width="1" height="4" fill="#fff"/>
<rect x="306" y="179" width="1" height="1" fill="#fff"/>
<rect x="313" y="181" width="4" height="6" fill="#fff"/>
<rect x="315" y="188" width="1" height="4" fill="#fff"/>
<rect x="312" y="179" width="1" height="1" fill="#fff"/>
<rect x="319" y="181" width="4" height="6" fill="#fff"/>
<rect x="321" y="188" width="1" height="4" fill="#fff"/>
<rect x="318" y="179" width="1" height="1" fill="#fff"/>
<rect x="325" y="181" width="4" height="6" fill="#fff"/>
<rect x="327" y="188" width="1" height="4" fill="#fff"/>
<rect x="324" y="179" width="1" height="1" fill="#fff"/>
<rect x="331" y="181" width="4" height="6" fill="#fff"/>
<rect x="333" y="188" width="1" height="4" fill="#fff"/>
<rect x="330" y="179" width="1" height="1" fill="#fff"/>
<rect x="337" y="181" width="4" height="6" fill="#fff"/>
<rect x="339" y="188" width="1" height="4" fill="#fff"/>
<rect x="336" y="179" width="1" height="1" fill="#fff"/>
<rect x="168" y="203" width="175" height="14" fill="#000"/>
<rect x="169" y="205" width="1" height="6" fill="#fff"/>
<rect x="172" y="205" width="4" height="6" fill="#fff"/>
<rect x="174" y="212" width="1" height="4" fill="#fff"/>
<rect x="171" y="203" width="1" height="1" fill="#fff"/>
<rect x="178" y="205" width="4" height="6" fill="#fff"/>
<rect x="180" y="212" width="1" height="4" fill="#fff"/>
<rect x="177" y="203" width="1" height="1" fill="#fff"/>
<rect x="184" y="205" width="4" height="6" fill="#fff"/>
<rect x="186" y="212" width="1" height="4" fill="#fff"/>
<rect x="183" y="203" width="1" height="1" fill="#fff"/>
<rect x="189" y="205" width="4" height="6" fill="#fff"/>
<rect x="191" y="212" width="1" height="4" fill="#fff"/>
<rect x="188" y="203" width="1" height="1" fill="#fff"/>
<rect x="195" y="205" width="4" height="6" fill="#fff"/>
<rect x="197" y="212" width="1" height="4" fill="#fff"/>
<rect x="194" y="203" width="1" height="1" fill="#fff"/>
<rect x="201" y="205" width="4" height="6" fill="#fff"/>
<rect x="203" y="212" width="1" height="4" fill="#fff"/>
<rect x="200" y="203" width="1" height="1" fill="#fff"/>
<rect x="207" y="205" width="4" height="6" fill="#fff"/>
<rect x="209" y="212" width="1" height="4" fill="#fff"/>
<rect x="206" y="203" width="1" height="1" fill="#fff"/>
<rect x="213" y="205" width="4" height="6" fill="#fff"/>
<rect x="215" y="212" width="1" height="4" fill="#fff"/>
<rect x="212" y="203" width="1" height="1" fill="#fff"/>
<rect x="219" y="205" width="4" height="6" fill="#fff"/>
<rect x="221" y="212" width="1" height="4" fill="#fff"/>
<rect x="218" y="203" width="1" height="1" fill="#fff"/>
<rect x="225" y="205" width="4" height="6" fill="#fff"/>
<rect x="227" y="212" width="1" height="4" fill="#fff"/>
<rect x="224" y="203" width="1" height="1" fill="#fff"/>
<rect x="231" y="205" width="4" height="6" fill="#fff"/>
<rect x="233" y="212" width="1" height="4" fill="#fff"/>
<rect x="230" y="203" width="1" height="1" fill="#fff"/>
<rect x="237" y="205" width="4" height="6" fill="#fff"/>
<rect x="239" y="212" width="1" height="4" fill="#fff"/>
<rect x="236" y="203" width="1" height="1" fill="#fff"/>
<rect x="242" y="205" width="4" height="6" fill="#fff"/>
<rect x="244" y="212" width="1" height="4" fill="#fff"/>
<rect x="241" y="203" width="1" height="1" fill="#fff"/>
<rect x="248" y="205" width="4" height="6" fill="#fff"/>
<rect x="250" y="212" width="1" height="4" fill="#fff"/>
<rect x="247" y="203" width="1" height="1" fill="#fff"/>
<rect x="254" y="205" width="4" height="6" fill="#fff"/>
<rect x="256" y="212" width="1" height="4" fill="#fff"/>
<rect x="253" y="203" width="1" height="1" fill="#fff"/>
<rect x="260" y="205" width="4" height="6" fill="#fff"/>
<rect x="262" y="212" width="1" height="4" fill="#fff"/>
<rect x="259" y="203" width="1" height="1" fill="#fff"/>
<rect x="266" y="205" width="4" height="6" fill="#fff"/>
<rect x="268" y="212" width="1" height="4" fill="#fff"/>
<rect x="265" y="203" width="1" height="1" fill="#fff"/>
<rect x="272" y="205" width="4" height="6" fill="#fff"/>
<rect x="274" y="212" width="1" height="4" fill="#fff"/>
<rect x="271" y="203" width="1" height="1" fill="#fff"/>
<rect x="278" y="205" width="4" height="6" fill="#fff"/>
<rect x="280" y="212" width="1" height="4" fill="#fff"/>
<rect x="277" y="203" width="1" height="1" fill="#fff"/>
<rect x="284" y="205" width="4" height="6" fill="#fff"/>
<rect x="286" y="212" width="1" height="4" fill="#fff"/>
<rect x="283" y="203" width="1" height="1" fill="#fff"/>
<rect x="290" y="205" width="4" height="6" fill="#fff"/>
<rect x="292" y="212" width="1" height="4" fill="#fff"/>
<rect x="289" y="203" width="1" height="1" fill="#fff"/>
<rect x="296" y="205" width="4" height="6" fill="#fff"/>
<rect x="298" y="212" width="1" height="4" fill="#fff"/>
<rect x="295" y="203" width="1" height="1" fill="#fff"/>
<rect x="302" y="205" width="4" height="6" fill="#fff"/>
<rect x="304" y="212" width="1" height="4" fill="#fff"/>
<rect x="301" y="203" width="1" height="1" fill="#fff"/>
<rect x="307" y="205" width="4" height="6" fill="#fff"/>
<rect x="309" y="212" width="1" height="4" fill="#fff"/>
<rect x="306" y="203" width="1" height="1" fill="#fff"/>
<rect x="313" y="205" width="4" height="6" fill="#fff"/>
<rect x="315" y="212" width="1" height="4" fill="#fff"/>
<rect x="312" y="203" width="1" height="1" fill="#fff"/>
<rect x="319" y="205" width="4" height="6" fill="#fff"/>
<rect x="321" y="212" width="1" height="4" fill="#fff"/>
<rect x="318" y="203" width="1" height="1" fill="#fff"/>
<rect x="325" y="205" width="4" height="6" fill="#fff"/>
<rect x="327" y="212" width="1" height="4" fill="#fff"/>
<rect x="324" y="203" width="1" height="1" fill="#fff"/>
<rect x="331" y="205" width="4" height="6" fill="#fff"/>
<rect x="333" y="212" width="1" height="4" fill="#fff"/>
<rect x="330" y="203" width="1" height="1" fill="#fff"/>
<rect x="337" y="205" width="4" height="6" fill="#fff"/>
<rect x="339" y="212" width="1" height="4" fill="#fff"/>
<rect x="336" y="203" width="1" height="1" fill="#fff"/>
<rect x="150" y="195" width="16" height="7" fill="#000"/>
<rect x="151" y="196" width="14" height="5" fill="#fff"/>
<rect x="169" y="195" width="30" height="7" fill="#000"/>
<rect x="170" y="196" width="28" height="5" fill="#fff"/>
<rect x="204" y="195" width="31" height="7" fill="#000"/>
<rect x="205" y="196" width="29" height="5" fill="#fff"/>
<rect x="242" y="195" width="31" height="7" fill="#000"/>
<rect x="243" y="196" width="29" height="5" fill="#fff"/>
<rect x="279" y="195" width="31" height="7" fill="#000"/>
<rect x="280" y="196" width="29" height="5" fill="#fff"/>
<rect x="316" y="195" width="29" height="7" fill="#000"/>
<rect x="317" y="196" width="27" height="5" fill="#fff"/>
<rect x="348" y="195" width="15" height="7" fill="#000"/>
<rect x="349" y="196" width="13" height="5" fill="#fff"/>
<rect x="143" y="180" width="8" height="1" fill="#000"/>
<rect x="143" y="187" width="8" height="1" fill="#000"/>
<rect x="143" y="205" width="8" height="1" fill="#000"/>
<rect x="143" y="212" width="8" height="1" fill="#000"/>
<rect x="151" y="177" width="4" height="17" fill="#000"/>
<rect x="151" y="202" width="4" height="18" fill="#000"/>
<rect x="154" y="179" width="10" height="11" fill="#000"/>
<rect x="155" y="180" width="8" height="9" fill="#fff"/>
<rect x="156" y="186" width="6" height="8" fill="#000"/>
<rect x="157" y="187" width="4" height="6" fill="#fff"/>
<rect x="154" y="204" width="10" height="10" fill="#000"/>
<rect x="155" y="205" width="8" height="8" fill="#fff"/>
<rect x="156" y="211" width="6" height="8" fill="#000"/>
<rect x="157" y="212" width="4" height="6" fill="#fff"/>
<rect x="362" y="180" width="7" height="1" fill="#000"/>
<rect x="362" y="187" width="7" height="1" fill="#000"/>
<rect x="362" y="205" width="7" height="1" fill="#000"/>
<rect x="362" y="212" width="7" height="1" fill="#000"/>
<rect x="361" y="177" width="1" height="43" fill="#000"/>
<rect x="358" y="177" width="3" height="17" fill="#000"/>
<rect x="360" y="179" width="1" height="14" fill="#fff"/>
<rect x="357" y="203" width="4" height="17" fill="#000"/>
<rect x="360" y="204" width="1" height="1" fill="#fff"/>
<rect x="348" y="180" width="10" height="10" fill="#000"/>
<rect x="349" y="181" width="8" height="8" fill="#fff"/>
<rect x="350" y="187" width="8" height="7" fill="#000"/>
<rect x="351" y="188" width="6" height="5" fill="#fff"/>
<rect x="348" y="204" width="10" height="9" fill="#000"/>
<rect x="349" y="205" width="8" height="7" fill="#fff"/>
<rect x="350" y="211" width="8" height="8" fill="#000"/>
<rect x="351" y="212" width="6" height="6" fill="#fff"/>
<rect x="139" y="85" width="21" height="1" fill="#000"/>
<rect x="168" y="85" width="24" height="1" fill="#000"/>
<rect x="200" y="85" width="24" height="1" fill="#000"/>
<rect x="232" y="85" width="24" height="1" fill="#000"/>
<rect x="264" y="85" width="24" height="1" fill="#000"/>
<rect x="296" y="85" width="24" height="1" fill="#000"/>
<rect x="328" y="85" width="24" height="1" fill="#000"/>
<rect x="360" y="85" width="14" height="1" fill="#000"/>
<rect x="373" y="85" width="1" height="3" fill="#000"/>
<rect x="373" y="96" width="1" height="24" fill="#000"/>
<rect x="373" y="128" width="1" height="24" fill="#000"/>
<rect x="373" y="160" width="1" height="24" fill="#000"/>
<rect x="373" y="192" width="1" height="24" fill="#000"/>
<rect x="139" y="85" width="1" height="19" fill="#000"/>
<rect x="139" y="113" width="1" height="24" fill="#000"/>
<rect x="139" y="145" width="1" height="24" fill="#000"/>
<rect x="139" y="177" width="1" height="23" fill="#000"/>
<rect x="139" y="209" width="1" height="16" fill="#000"/>
<rect x="139" y="224" width="3" height="1" fill="#000"/>
<rect x="150" y="224" width="24" height="1" fill="#000"/>
<rect x="182" y="224" width="24" height="1" fill="#000"/>
<rect x="214" y="224" width="24" height="1" fill="#000"/>
<rect x="246" y="224" width="24" height="1" fill="#000"/>
<rect x="278" y="224" width="24" height="1" fill="#000"/>
<rect x="310" y="224" width="24" height="1" fill="#000"/>
<rect x="342" y="224" width="24" height="1" fill="#000"/>
<path d="M229 146L285 146L287 148L287 162L285 164L229 164L227 162L227 148Z" fill="#000" />
<path d="M230 148L284 148L285 149L285 161L284 162L230 162L229 161L229 149Z" fill="#fff" />
<rect x="223" y="16" width="177" height="23" fill="#000"/>
<rect x="230" y="24" width="120" height="7" fill="#fff"/>
<rect x="359" y="24" width="34" height="7" fill="#fff"/>
<rect x="588" y="69" width="177" height="23" fill="#000"/>
<rect x="596" y="77" width="33" height="7" fill="#fff"/>
<rect x="638" y="77" width="120" height="7" fill="#fff"/>
<rect x="589" y="115" width="220" height="23" fill="#000"/>
<rect x="596" y="123" width="33" height="7" fill="#fff"/>
<rect x="639" y="123" width="120" height="7" fill="#fff"/>
<rect x="768" y="123" width="33" height="7" fill="#fff"/>
<rect x="453" y="160" width="336" height="24" fill="#000"/>
<rect x="458" y="168" width="159" height="8" fill="#fff"/>
<rect x="625" y="168" width="159" height="8" fill="#fff"/>
<rect x="453" y="201" width="336" height="23" fill="#000"/>
<rect x="458" y="209" width="159" height="7" fill="#fff"/>
<rect x="625" y="209" width="159" height="7" fill="#fff"/>
<rect x="589" y="244" width="220" height="23" fill="#000"/>
<rect x="596" y="252" width="33" height="7" fill="#fff"/>
<rect x="639" y="252" width="120" height="7" fill="#fff"/>
<rect x="768" y="252" width="33" height="7" fill="#fff"/>
<rect x="588" y="290" width="177" height="23" fill="#000"/>
<rect x="596" y="297" width="33" height="8" fill="#fff"/>
<rect x="638" y="297" width="120" height="8" fill="#fff"/>
<rect x="169" y="341" width="221" height="24" fill="#000"/>
<rect x="177" y="349" width="33" height="8" fill="#fff"/>
<rect x="219" y="349" width="120" height="8" fill="#fff"/>
<rect x="349" y="349" width="32" height="8" fill="#fff"/>
<path d="M783 71L805 71L807 73L807 88L805 90L783 90L781 88L781 73Z" fill="#000" />
<path d="M784 74L803 74L804 75L804 87L803 88L784 88L783 87L783 75Z" fill="#fff" />
<path d="M766 79.7L770.05 79.1L773.95 78.1L779.05 76.9L783 76.4L783 84.6L779.05 84.1L773.95 83.1L770.05 82.1L766 81.7Z" fill="#000" />
<path d="M773.5 80.7L776.95 79.7L781 78.6L784 78.6L784 82.6L781 82.6L776.95 81.7Z" fill="#fff" />
<path d="M827 118L848 118L850 120L850 134L848 136L827 136L825 134L825 120Z" fill="#000" />
<path d="M828 121L846 121L847 122L847 133L846 134L828 134L827 133L827 122Z" fill="#fff" />
<path d="M809.6 126.1L813.76 125.5L817.76 124.5L823 123.3L827 122.8L827 131L823 130.5L817.76 129.5L813.76 128.5L809.6 128.1Z" fill="#000" />
<path d="M817.3 127.1L820.84 126.1L825 125L828 125L828 129L825 129L820.84 128.1Z" fill="#fff" />
<path d="M806 163L828 163L830 165L830 179L828 181L806 181L804 179L804 165Z" fill="#000" />
<path d="M807 166L826 166L827 167L827 178L826 179L807 179L806 178L806 167Z" fill="#fff" />
<path d="M789 171.4L793.05 170.8L796.95 169.8L802.05 168.6L806 168.1L806 176.3L802.05 175.8L796.95 174.8L793.05 173.8L789 173.4Z" fill="#000" />
<path d="M796.5 172.4L799.95 171.4L804 170.3L807 170.3L807 174.3L804 174.3L799.95 173.4Z" fill="#fff" />
<path d="M806 203L828 203L830 205L830 219L828 221L806 221L804 219L804 205Z" fill="#000" />
<path d="M807 206L826 206L827 207L827 218L826 219L807 219L806 218L806 207Z" fill="#fff" />
<path d="M789 211.4L793.05 210.8L796.95 209.8L802.05 208.6L806 208.1L806 216.3L802.05 215.8L796.95 214.8L793.05 213.8L789 213.4Z" fill="#000" />
<path d="M796.5 212.4L799.95 211.4L804 210.3L807 210.3L807 214.3L804 214.3L799.95 213.4Z" fill="#fff" />
<path d="M827 246L849 246L851 248L851 262L849 264L827 264L825 262L825 248Z" fill="#000" />
<path d="M828 249L847 249L848 250L848 261L847 262L828 262L827 261L827 250Z" fill="#fff" />
<path d="M810 254.6L814.05 254L817.95 253L823.05 251.8L827 251.3L827 259.5L823.05 259L817.95 258L814.05 257L810 256.6Z" fill="#000" />
<path d="M817.5 255.6L820.95 254.6L825 253.5L828 253.5L828 257.5L825 257.5L820.95 256.6Z" fill="#fff" />
<path d="M783 292L805 292L807 294L807 308L805 310L783 310L781 308L781 294Z" fill="#000" />
<path d="M784 295L803 295L804 296L804 307L803 308L784 308L783 307L783 296Z" fill="#fff" />
<path d="M766.5 300.1L770.41 299.5L774.18 298.5L779.12 297.3L783 296.8L783 305L779.12 304.5L774.18 303.5L770.41 302.5L766.5 302.1Z" fill="#000" />
<path d="M773.75 301.1L777.09 300.1L781 299L784 299L784 303L781 303L777.09 302.1Z" fill="#fff" />
<path d="M400.5 29.8L401.8 27.5L412.5 35L408 39.5Z" fill="#000" />
<path d="M410 35L440 35L442 37L442 51L440 53L410 53L408 51L408 37Z" fill="#000" />
<path d="M410.6 36.6L439 36.6L440 37.6L440 49.6L439 50.6L410.6 50.6L409.6 49.6L409.6 37.6Z" fill="#fff" />
<line x1="404.5" y1="31.5" x2="410.5" y2="37.3" stroke="#fff" stroke-width="1.2" stroke-linecap="butt"/>
<path d="M390.8 351L398 342.5L402.5 346.3L392.5 353Z" fill="#000" />
<path d="M400 327L431 327L433 329L433 344L431 346L400 346L398 344L398 329Z" fill="#000" />
<path d="M401 329L430 329L431 330L431 343L430 344L401 344L400 343L400 330Z" fill="#fff" />
<line x1="396.5" y1="346.5" x2="400.5" y2="343" stroke="#fff" stroke-width="1.2" stroke-linecap="butt"/>
<rect x="422" y="77" width="44" height="44" fill="#000"/>
<rect x="425.2" y="72" width="1.3" height="5.2" fill="#000"/>
<rect x="425.2" y="120.8" width="1.3" height="5.2" fill="#000"/>
<rect x="417" y="80.2" width="5.2" height="1.3" fill="#000"/>
<rect x="465.8" y="80.2" width="5.2" height="1.3" fill="#000"/>
<rect x="427.53" y="72" width="1.3" height="5.2" fill="#000"/>
<rect x="427.53" y="120.8" width="1.3" height="5.2" fill="#000"/>
<rect x="417" y="82.53" width="5.2" height="1.3" fill="#000"/>
<rect x="465.8" y="82.53" width="5.2" height="1.3" fill="#000"/>
<rect x="429.86" y="72" width="1.3" height="5.2" fill="#000"/>
<rect x="429.86" y="120.8" width="1.3" height="5.2" fill="#000"/>
<rect x="417" y="84.86" width="5.2" height="1.3" fill="#000"/>
<rect x="465.8" y="84.86" width="5.2" height="1.3" fill="#000"/>
<rect x="432.19" y="72" width="1.3" height="5.2" fill="#000"/>
<rect x="432.19" y="120.8" width="1.3" height="5.2" fill="#000"/>
<rect x="417" y="87.19" width="5.2" height="1.3" fill="#000"/>
<rect x="465.8" y="87.19" width="5.2" height="1.3" fill="#000"/>
<rect x="434.52" y="72" width="1.3" height="5.2" fill="#000"/>
<rect x="434.52" y="120.8" width="1.3" height="5.2" fill="#000"/>
<rect x="417" y="89.52" width="5.2" height="1.3" fill="#000"/>
<rect x="465.8" y="89.52" width="5.2" height="1.3" fill="#000"/>
<rect x="436.85" y="72" width="1.3" height="5.2" fill="#000"/>
<rect x="436.85" y="120.8" width="1.3" height="5.2" fill="#000"/>
<rect x="417" y="91.85" width="5.2" height="1.3" fill="#000"/>
<rect x="465.8" y="91.85" width="5.2" height="1.3" fill="#000"/>
<rect x="439.18" y="72" width="1.3" height="5.2" fill="#000"/>
<rect x="439.18" y="120.8" width="1.3" height="5.2" fill="#000"/>
<rect x="417" y="94.18" width="5.2" height="1.3" fill="#000"/>
<rect x="465.8" y="94.18" width="5.2" height="1.3" fill="#000"/>
<rect x="441.51" y="72" width="1.3" height="5.2" fill="#000"/>
<rect x="441.51" y="120.8" width="1.3" height="5.2" fill="#000"/>
<rect x="417" y="96.51" width="5.2" height="1.3" fill="#000"/>
<rect x="465.8" y="96.51" width="5.2" height="1.3" fill="#000"/>
<rect x="443.84" y="72" width="1.3" height="5.2" fill="#000"/>
<rect x="443.84" y="120.8" width="1.3" height="5.2" fill="#000"/>
<rect x="417" y="98.84" width="5.2" height="1.3" fill="#000"/>
<rect x="465.8" y="98.84" width="5.2" height="1.3" fill="#000"/>
<rect x="446.17" y="72" width="1.3" height="5.2" fill="#000"/>
<rect x="446.17" y="120.8" width="1.3" height="5.2" fill="#000"/>
<rect x="417" y="101.17" width="5.2" height="1.3" fill="#000"/>
<rect x="465.8" y="101.17" width="5.2" height="1.3" fill="#000"/>
<rect x="448.5" y="72" width="1.3" height="5.2" fill="#000"/>
<rect x="448.5" y="120.8" width="1.3" height="5.2" fill="#000"/>
<rect x="417" y="103.5" width="5.2" height="1.3" fill="#000"/>
<rect x="465.8" y="103.5" width="5.2" height="1.3" fill="#000"/>
<rect x="450.83" y="72" width="1.3" height="5.2" fill="#000"/>
<rect x="450.83" y="120.8" width="1.3" height="5.2" fill="#000"/>
<rect x="417" y="105.83" width="5.2" height="1.3" fill="#000"/>
<rect x="465.8" y="105.83" width="5.2" height="1.3" fill="#000"/>
<rect x="453.16" y="72" width="1.3" height="5.2" fill="#000"/>
<rect x="453.16" y="120.8" width="1.3" height="5.2" fill="#000"/>
<rect x="417" y="108.16" width="5.2" height="1.3" fill="#000"/>
<rect x="465.8" y="108.16" width="5.2" height="1.3" fill="#000"/>
<rect x="455.49" y="72" width="1.3" height="5.2" fill="#000"/>
<rect x="455.49" y="120.8" width="1.3" height="5.2" fill="#000"/>
<rect x="417" y="110.49" width="5.2" height="1.3" fill="#000"/>
<rect x="465.8" y="110.49" width="5.2" height="1.3" fill="#000"/>
<rect x="457.82" y="72" width="1.3" height="5.2" fill="#000"/>
<rect x="457.82" y="120.8" width="1.3" height="5.2" fill="#000"/>
<rect x="417" y="112.82" width="5.2" height="1.3" fill="#000"/>
<rect x="465.8" y="112.82" width="5.2" height="1.3" fill="#000"/>
<rect x="460.15" y="72" width="1.3" height="5.2" fill="#000"/>
<rect x="460.15" y="120.8" width="1.3" height="5.2" fill="#000"/>
<rect x="417" y="115.15" width="5.2" height="1.3" fill="#000"/>
<rect x="465.8" y="115.15" width="5.2" height="1.3" fill="#000"/>
<rect x="462.48" y="72" width="1.3" height="5.2" fill="#000"/>
<rect x="462.48" y="120.8" width="1.3" height="5.2" fill="#000"/>
<rect x="417" y="117.48" width="5.2" height="1.3" fill="#000"/>
<rect x="465.8" y="117.48" width="5.2" height="1.3" fill="#000"/>
<line x1="419.3" y1="74.3" x2="424" y2="79" stroke="#000" stroke-width="4.4" stroke-linecap="round"/>
<line x1="468.7" y1="74.3" x2="464" y2="79" stroke="#000" stroke-width="4.4" stroke-linecap="round"/>
<line x1="419.3" y1="123.7" x2="424" y2="119" stroke="#000" stroke-width="4.4" stroke-linecap="round"/>
<line x1="468.7" y1="123.7" x2="464" y2="119" stroke="#000" stroke-width="4.4" stroke-linecap="round"/>
<rect x="458" y="112.5" width="4" height="6" fill="#fff"/>
<rect x="457" y="113.5" width="6" height="4" fill="#fff"/>
<rect x="398" y="403" width="44" height="44" fill="#000"/>
<rect x="401.2" y="398" width="1.3" height="5.2" fill="#000"/>
<rect x="401.2" y="446.8" width="1.3" height="5.2" fill="#000"/>
<rect x="393" y="406.2" width="5.2" height="1.3" fill="#000"/>
<rect x="441.8" y="406.2" width="5.2" height="1.3" fill="#000"/>
<rect x="403.53" y="398" width="1.3" height="5.2" fill="#000"/>
<rect x="403.53" y="446.8" width="1.3" height="5.2" fill="#000"/>
<rect x="393" y="408.53" width="5.2" height="1.3" fill="#000"/>
<rect x="441.8" y="408.53" width="5.2" height="1.3" fill="#000"/>
<rect x="405.86" y="398" width="1.3" height="5.2" fill="#000"/>
<rect x="405.86" y="446.8" width="1.3" height="5.2" fill="#000"/>
<rect x="393" y="410.86" width="5.2" height="1.3" fill="#000"/>
<rect x="441.8" y="410.86" width="5.2" height="1.3" fill="#000"/>
<rect x="408.19" y="398" width="1.3" height="5.2" fill="#000"/>
<rect x="408.19" y="446.8" width="1.3" height="5.2" fill="#000"/>
<rect x="393" y="413.19" width="5.2" height="1.3" fill="#000"/>
<rect x="441.8" y="413.19" width="5.2" height="1.3" fill="#000"/>
<rect x="410.52" y="398" width="1.3" height="5.2" fill="#000"/>
<rect x="410.52" y="446.8" width="1.3" height="5.2" fill="#000"/>
<rect x="393" y="415.52" width="5.2" height="1.3" fill="#000"/>
<rect x="441.8" y="415.52" width="5.2" height="1.3" fill="#000"/>
<rect x="412.85" y="398" width="1.3" height="5.2" fill="#000"/>
<rect x="412.85" y="446.8" width="1.3" height="5.2" fill="#000"/>
<rect x="393" y="417.85" width="5.2" height="1.3" fill="#000"/>
<rect x="441.8" y="417.85" width="5.2" height="1.3" fill="#000"/>
<rect x="415.18" y="398" width="1.3" height="5.2" fill="#000"/>
<rect x="415.18" y="446.8" width="1.3" height="5.2" fill="#000"/>
<rect x="393" y="420.18" width="5.2" height="1.3" fill="#000"/>
<rect x="441.8" y="420.18" width="5.2" height="1.3" fill="#000"/>
<rect x="417.51" y="398" width="1.3" height="5.2" fill="#000"/>
<rect x="417.51" y="446.8" width="1.3" height="5.2" fill="#000"/>
<rect x="393" y="422.51" width="5.2" height="1.3" fill="#000"/>
<rect x="441.8" y="422.51" width="5.2" height="1.3" fill="#000"/>
<rect x="419.84" y="398" width="1.3" height="5.2" fill="#000"/>
<rect x="419.84" y="446.8" width="1.3" height="5.2" fill="#000"/>
<rect x="393" y="424.84" width="5.2" height="1.3" fill="#000"/>
<rect x="441.8" y="424.84" width="5.2" height="1.3" fill="#000"/>
<rect x="422.17" y="398" width="1.3" height="5.2" fill="#000"/>
<rect x="422.17" y="446.8" width="1.3" height="5.2" fill="#000"/>
<rect x="393" y="427.17" width="5.2" height="1.3" fill="#000"/>
<rect x="441.8" y="427.17" width="5.2" height="1.3" fill="#000"/>
<rect x="424.5" y="398" width="1.3" height="5.2" fill="#000"/>
<rect x="424.5" y="446.8" width="1.3" height="5.2" fill="#000"/>
<rect x="393" y="429.5" width="5.2" height="1.3" fill="#000"/>
<rect x="441.8" y="429.5" width="5.2" height="1.3" fill="#000"/>
<rect x="426.83" y="398" width="1.3" height="5.2" fill="#000"/>
<rect x="426.83" y="446.8" width="1.3" height="5.2" fill="#000"/>
<rect x="393" y="431.83" width="5.2" height="1.3" fill="#000"/>
<rect x="441.8" y="431.83" width="5.2" height="1.3" fill="#000"/>
<rect x="429.16" y="398" width="1.3" height="5.2" fill="#000"/>
<rect x="429.16" y="446.8" width="1.3" height="5.2" fill="#000"/>
<rect x="393" y="434.16" width="5.2" height="1.3" fill="#000"/>
<rect x="441.8" y="434.16" width="5.2" height="1.3" fill="#000"/>
<rect x="431.49" y="398" width="1.3" height="5.2" fill="#000"/>
<rect x="431.49" y="446.8" width="1.3" height="5.2" fill="#000"/>
<rect x="393" y="436.49" width="5.2" height="1.3" fill="#000"/>
<rect x="441.8" y="436.49" width="5.2" height="1.3" fill="#000"/>
<rect x="433.82" y="398" width="1.3" height="5.2" fill="#000"/>
<rect x="433.82" y="446.8" width="1.3" height="5.2" fill="#000"/>
<rect x="393" y="438.82" width="5.2" height="1.3" fill="#000"/>
<rect x="441.8" y="438.82" width="5.2" height="1.3" fill="#000"/>
<rect x="436.15" y="398" width="1.3" height="5.2" fill="#000"/>
<rect x="436.15" y="446.8" width="1.3" height="5.2" fill="#000"/>
<rect x="393" y="441.15" width="5.2" height="1.3" fill="#000"/>
<rect x="441.8" y="441.15" width="5.2" height="1.3" fill="#000"/>
<rect x="438.48" y="398" width="1.3" height="5.2" fill="#000"/>
<rect x="438.48" y="446.8" width="1.3" height="5.2" fill="#000"/>
<rect x="393" y="443.48" width="5.2" height="1.3" fill="#000"/>
<rect x="441.8" y="443.48" width="5.2" height="1.3" fill="#000"/>
<line x1="395.3" y1="400.3" x2="400" y2="405" stroke="#000" stroke-width="4.4" stroke-linecap="round"/>
<line x1="444.7" y1="400.3" x2="440" y2="405" stroke="#000" stroke-width="4.4" stroke-linecap="round"/>
<line x1="395.3" y1="449.7" x2="400" y2="445" stroke="#000" stroke-width="4.4" stroke-linecap="round"/>
<line x1="444.7" y1="449.7" x2="440" y2="445" stroke="#000" stroke-width="4.4" stroke-linecap="round"/>
<rect x="435" y="406.5" width="4" height="6" fill="#fff"/>
<rect x="434" y="407.5" width="6" height="4" fill="#fff"/>
<rect x="545" y="384" width="44" height="44" fill="#000"/>
<rect x="548.2" y="379" width="1.3" height="5.2" fill="#000"/>
<rect x="548.2" y="427.8" width="1.3" height="5.2" fill="#000"/>
<rect x="540" y="387.2" width="5.2" height="1.3" fill="#000"/>
<rect x="588.8" y="387.2" width="5.2" height="1.3" fill="#000"/>
<rect x="550.53" y="379" width="1.3" height="5.2" fill="#000"/>
<rect x="550.53" y="427.8" width="1.3" height="5.2" fill="#000"/>
<rect x="540" y="389.53" width="5.2" height="1.3" fill="#000"/>
<rect x="588.8" y="389.53" width="5.2" height="1.3" fill="#000"/>
<rect x="552.86" y="379" width="1.3" height="5.2" fill="#000"/>
<rect x="552.86" y="427.8" width="1.3" height="5.2" fill="#000"/>
<rect x="540" y="391.86" width="5.2" height="1.3" fill="#000"/>
<rect x="588.8" y="391.86" width="5.2" height="1.3" fill="#000"/>
<rect x="555.19" y="379" width="1.3" height="5.2" fill="#000"/>
<rect x="555.19" y="427.8" width="1.3" height="5.2" fill="#000"/>
<rect x="540" y="394.19" width="5.2" height="1.3" fill="#000"/>
<rect x="588.8" y="394.19" width="5.2" height="1.3" fill="#000"/>
<rect x="557.52" y="379" width="1.3" height="5.2" fill="#000"/>
<rect x="557.52" y="427.8" width="1.3" height="5.2" fill="#000"/>
<rect x="540" y="396.52" width="5.2" height="1.3" fill="#000"/>
<rect x="588.8" y="396.52" width="5.2" height="1.3" fill="#000"/>
<rect x="559.85" y="379" width="1.3" height="5.2" fill="#000"/>
<rect x="559.85" y="427.8" width="1.3" height="5.2" fill="#000"/>
<rect x="540" y="398.85" width="5.2" height="1.3" fill="#000"/>
<rect x="588.8" y="398.85" width="5.2" height="1.3" fill="#000"/>
<rect x="562.18" y="379" width="1.3" height="5.2" fill="#000"/>
<rect x="562.18" y="427.8" width="1.3" height="5.2" fill="#000"/>
<rect x="540" y="401.18" width="5.2" height="1.3" fill="#000"/>
<rect x="588.8" y="401.18" width="5.2" height="1.3" fill="#000"/>
<rect x="564.51" y="379" width="1.3" height="5.2" fill="#000"/>
<rect x="564.51" y="427.8" width="1.3" height="5.2" fill="#000"/>
<rect x="540" y="403.51" width="5.2" height="1.3" fill="#000"/>
<rect x="588.8" y="403.51" width="5.2" height="1.3" fill="#000"/>
<rect x="566.84" y="379" width="1.3" height="5.2" fill="#000"/>
<rect x="566.84" y="427.8" width="1.3" height="5.2" fill="#000"/>
<rect x="540" y="405.84" width="5.2" height="1.3" fill="#000"/>
<rect x="588.8" y="405.84" width="5.2" height="1.3" fill="#000"/>
<rect x="569.17" y="379" width="1.3" height="5.2" fill="#000"/>
<rect x="569.17" y="427.8" width="1.3" height="5.2" fill="#000"/>
<rect x="540" y="408.17" width="5.2" height="1.3" fill="#000"/>
<rect x="588.8" y="408.17" width="5.2" height="1.3" fill="#000"/>
<rect x="571.5" y="379" width="1.3" height="5.2" fill="#000"/>
<rect x="571.5" y="427.8" width="1.3" height="5.2" fill="#000"/>
<rect x="540" y="410.5" width="5.2" height="1.3" fill="#000"/>
<rect x="588.8" y="410.5" width="5.2" height="1.3" fill="#000"/>
<rect x="573.83" y="379" width="1.3" height="5.2" fill="#000"/>
<rect x="573.83" y="427.8" width="1.3" height="5.2" fill="#000"/>
<rect x="540" y="412.83" width="5.2" height="1.3" fill="#000"/>
<rect x="588.8" y="412.83" width="5.2" height="1.3" fill="#000"/>
<rect x="576.16" y="379" width="1.3" height="5.2" fill="#000"/>
<rect x="576.16" y="427.8" width="1.3" height="5.2" fill="#000"/>
<rect x="540" y="415.16" width="5.2" height="1.3" fill="#000"/>
<rect x="588.8" y="415.16" width="5.2" height="1.3" fill="#000"/>
<rect x="578.49" y="379" width="1.3" height="5.2" fill="#000"/>
<rect x="578.49" y="427.8" width="1.3" height="5.2" fill="#000"/>
<rect x="540" y="417.49" width="5.2" height="1.3" fill="#000"/>
<rect x="588.8" y="417.49" width="5.2" height="1.3" fill="#000"/>
<rect x="580.82" y="379" width="1.3" height="5.2" fill="#000"/>
<rect x="580.82" y="427.8" width="1.3" height="5.2" fill="#000"/>
<rect x="540" y="419.82" width="5.2" height="1.3" fill="#000"/>
<rect x="588.8" y="419.82" width="5.2" height="1.3" fill="#000"/>
<rect x="583.15" y="379" width="1.3" height="5.2" fill="#000"/>
<rect x="583.15" y="427.8" width="1.3" height="5.2" fill="#000"/>
<rect x="540" y="422.15" width="5.2" height="1.3" fill="#000"/>
<rect x="588.8" y="422.15" width="5.2" height="1.3" fill="#000"/>
<rect x="585.48" y="379" width="1.3" height="5.2" fill="#000"/>
<rect x="585.48" y="427.8" width="1.3" height="5.2" fill="#000"/>
<rect x="540" y="424.48" width="5.2" height="1.3" fill="#000"/>
<rect x="588.8" y="424.48" width="5.2" height="1.3" fill="#000"/>
<line x1="542.3" y1="381.3" x2="547" y2="386" stroke="#000" stroke-width="4.4" stroke-linecap="round"/>
<line x1="591.7" y1="381.3" x2="587" y2="386" stroke="#000" stroke-width="4.4" stroke-linecap="round"/>
<line x1="542.3" y1="430.7" x2="547" y2="426" stroke="#000" stroke-width="4.4" stroke-linecap="round"/>
<line x1="591.7" y1="430.7" x2="587" y2="426" stroke="#000" stroke-width="4.4" stroke-linecap="round"/>
<rect x="580" y="419.5" width="4" height="6" fill="#fff"/>
<rect x="579" y="420.5" width="6" height="4" fill="#fff"/>
<rect x="709" y="385" width="44" height="44" fill="#000"/>
<rect x="712.2" y="380" width="1.3" height="5.2" fill="#000"/>
<rect x="712.2" y="428.8" width="1.3" height="5.2" fill="#000"/>
<rect x="704" y="388.2" width="5.2" height="1.3" fill="#000"/>
<rect x="752.8" y="388.2" width="5.2" height="1.3" fill="#000"/>
<rect x="714.53" y="380" width="1.3" height="5.2" fill="#000"/>
<rect x="714.53" y="428.8" width="1.3" height="5.2" fill="#000"/>
<rect x="704" y="390.53" width="5.2" height="1.3" fill="#000"/>
<rect x="752.8" y="390.53" width="5.2" height="1.3" fill="#000"/>
<rect x="716.86" y="380" width="1.3" height="5.2" fill="#000"/>
<rect x="716.86" y="428.8" width="1.3" height="5.2" fill="#000"/>
<rect x="704" y="392.86" width="5.2" height="1.3" fill="#000"/>
<rect x="752.8" y="392.86" width="5.2" height="1.3" fill="#000"/>
<rect x="719.19" y="380" width="1.3" height="5.2" fill="#000"/>
<rect x="719.19" y="428.8" width="1.3" height="5.2" fill="#000"/>
<rect x="704" y="395.19" width="5.2" height="1.3" fill="#000"/>
<rect x="752.8" y="395.19" width="5.2" height="1.3" fill="#000"/>
<rect x="721.52" y="380" width="1.3" height="5.2" fill="#000"/>
<rect x="721.52" y="428.8" width="1.3" height="5.2" fill="#000"/>
<rect x="704" y="397.52" width="5.2" height="1.3" fill="#000"/>
<rect x="752.8" y="397.52" width="5.2" height="1.3" fill="#000"/>
<rect x="723.85" y="380" width="1.3" height="5.2" fill="#000"/>
<rect x="723.85" y="428.8" width="1.3" height="5.2" fill="#000"/>
<rect x="704" y="399.85" width="5.2" height="1.3" fill="#000"/>
<rect x="752.8" y="399.85" width="5.2" height="1.3" fill="#000"/>
<rect x="726.18" y="380" width="1.3" height="5.2" fill="#000"/>
<rect x="726.18" y="428.8" width="1.3" height="5.2" fill="#000"/>
<rect x="704" y="402.18" width="5.2" height="1.3" fill="#000"/>
<rect x="752.8" y="402.18" width="5.2" height="1.3" fill="#000"/>
<rect x="728.51" y="380" width="1.3" height="5.2" fill="#000"/>
<rect x="728.51" y="428.8" width="1.3" height="5.2" fill="#000"/>
<rect x="704" y="404.51" width="5.2" height="1.3" fill="#000"/>
<rect x="752.8" y="404.51" width="5.2" height="1.3" fill="#000"/>
<rect x="730.84" y="380" width="1.3" height="5.2" fill="#000"/>
<rect x="730.84" y="428.8" width="1.3" height="5.2" fill="#000"/>
<rect x="704" y="406.84" width="5.2" height="1.3" fill="#000"/>
<rect x="752.8" y="406.84" width="5.2" height="1.3" fill="#000"/>
<rect x="733.17" y="380" width="1.3" height="5.2" fill="#000"/>
<rect x="733.17" y="428.8" width="1.3" height="5.2" fill="#000"/>
<rect x="704" y="409.17" width="5.2" height="1.3" fill="#000"/>
<rect x="752.8" y="409.17" width="5.2" height="1.3" fill="#000"/>
<rect x="735.5" y="380" width="1.3" height="5.2" fill="#000"/>
<rect x="735.5" y="428.8" width="1.3" height="5.2" fill="#000"/>
<rect x="704" y="411.5" width="5.2" height="1.3" fill="#000"/>
<rect x="752.8" y="411.5" width="5.2" height="1.3" fill="#000"/>
<rect x="737.83" y="380" width="1.3" height="5.2" fill="#000"/>
<rect x="737.83" y="428.8" width="1.3" height="5.2" fill="#000"/>
<rect x="704" y="413.83" width="5.2" height="1.3" fill="#000"/>
<rect x="752.8" y="413.83" width="5.2" height="1.3" fill="#000"/>
<rect x="740.16" y="380" width="1.3" height="5.2" fill="#000"/>
<rect x="740.16" y="428.8" width="1.3" height="5.2" fill="#000"/>
<rect x="704" y="416.16" width="5.2" height="1.3" fill="#000"/>
<rect x="752.8" y="416.16" width="5.2" height="1.3" fill="#000"/>
<rect x="742.49" y="380" width="1.3" height="5.2" fill="#000"/>
<rect x="742.49" y="428.8" width="1.3" height="5.2" fill="#000"/>
<rect x="704" y="418.49" width="5.2" height="1.3" fill="#000"/>
<rect x="752.8" y="418.49" width="5.2" height="1.3" fill="#000"/>
<rect x="744.82" y="380" width="1.3" height="5.2" fill="#000"/>
<rect x="744.82" y="428.8" width="1.3" height="5.2" fill="#000"/>
<rect x="704" y="420.82" width="5.2" height="1.3" fill="#000"/>
<rect x="752.8" y="420.82" width="5.2" height="1.3" fill="#000"/>
<rect x="747.15" y="380" width="1.3" height="5.2" fill="#000"/>
<rect x="747.15" y="428.8" width="1.3" height="5.2" fill="#000"/>
<rect x="704" y="423.15" width="5.2" height="1.3" fill="#000"/>
<rect x="752.8" y="423.15" width="5.2" height="1.3" fill="#000"/>
<rect x="749.48" y="380" width="1.3" height="5.2" fill="#000"/>
<rect x="749.48" y="428.8" width="1.3" height="5.2" fill="#000"/>
<rect x="704" y="425.48" width="5.2" height="1.3" fill="#000"/>
<rect x="752.8" y="425.48" width="5.2" height="1.3" fill="#000"/>
<line x1="706.3" y1="382.3" x2="711" y2="387" stroke="#000" stroke-width="4.4" stroke-linecap="round"/>
<line x1="755.7" y1="382.3" x2="751" y2="387" stroke="#000" stroke-width="4.4" stroke-linecap="round"/>
<line x1="706.3" y1="431.7" x2="711" y2="427" stroke="#000" stroke-width="4.4" stroke-linecap="round"/>
<line x1="755.7" y1="431.7" x2="751" y2="427" stroke="#000" stroke-width="4.4" stroke-linecap="round"/>
<rect x="746" y="388" width="4" height="6" fill="#fff"/>
<rect x="745" y="389" width="6" height="4" fill="#fff"/>
<rect x="25" y="189" width="7" height="31" fill="#000"/>
<rect x="26" y="190" width="5" height="1" fill="#fff"/>
<rect x="26" y="195" width="5" height="1" fill="#fff"/>
<rect x="26" y="201" width="5" height="1" fill="#fff"/>
<rect x="26" y="207" width="5" height="1" fill="#fff"/>
<rect x="26" y="212" width="5" height="1" fill="#fff"/>
<rect x="26" y="218" width="5" height="1" fill="#fff"/>
<path d="M50 195L82 195L84 197L84 212L82 214L50 214L48 212L48 197Z" fill="#000" />
<path d="M51 197L80.5 197L81.5 198L81.5 210.2L80.5 211.2L51 211.2L50 210.2L50 198Z" fill="#fff" />
<path d="M32 202.6L36.32 202L40.48 201L45.92 199.8L50 199.3L50 207.5L45.92 207L40.48 206L36.32 205L32 204.6Z" fill="#000" />
<path d="M40 203.6L43.68 202.6L48 201.5L51 201.5L51 205.5L48 205.5L43.68 204.6Z" fill="#fff" />
<rect x="25" y="253" width="7" height="26" fill="#000"/>
<rect x="26" y="255" width="5" height="1" fill="#fff"/>
<rect x="26" y="260" width="5" height="1" fill="#fff"/>
<rect x="26" y="266" width="5" height="1" fill="#fff"/>
<rect x="26" y="271" width="5" height="1" fill="#fff"/>
<rect x="26" y="277" width="5" height="1" fill="#fff"/>
<path d="M49 257L81 257L83 259L83 274L81 276L49 276L47 274L47 259Z" fill="#000" />
<path d="M50 259L79.5 259L80.5 260L80.5 272.2L79.5 273.2L50 273.2L49 272.2L49 260Z" fill="#fff" />
<path d="M32 265.1L36.05 264.5L39.95 263.5L45.05 262.3L49 261.8L49 270L45.05 269.5L39.95 268.5L36.05 267.5L32 267.1Z" fill="#000" />
<path d="M39.5 266.1L42.95 265.1L47 264L50 264L50 268L47 268L42.95 267.1Z" fill="#fff" />
<rect x="25" y="318" width="7" height="25" fill="#000"/>
<rect x="26" y="319" width="5" height="1" fill="#fff"/>
<rect x="26" y="324" width="5" height="1" fill="#fff"/>
<rect x="26" y="330" width="5" height="1" fill="#fff"/>
<rect x="26" y="336" width="5" height="1" fill="#fff"/>
<rect x="26" y="341" width="5" height="1" fill="#fff"/>
<path d="M49 321L81 321L83 323L83 338L81 340L49 340L47 338L47 323Z" fill="#000" />
<path d="M50 323L79.5 323L80.5 324L80.5 336.5L79.5 337.5L50 337.5L49 336.5L49 324Z" fill="#fff" />
<path d="M32 329.4L36.05 328.8L39.95 327.8L45.05 326.6L49 326.1L49 334.3L45.05 333.8L39.95 332.8L36.05 331.8L32 331.4Z" fill="#000" />
<path d="M39.5 330.4L42.95 329.4L47 328.3L50 328.3L50 332.3L47 332.3L42.95 331.4Z" fill="#fff" />
<rect x="117" y="429" width="49" height="27" fill="#000"/>
<rect x="119" y="431" width="45" height="23" fill="#fff"/>
<rect x="118" y="430" width="3" height="4" fill="#fff"/>
<rect x="120" y="431" width="1" height="1" fill="#000"/>
<rect x="119" y="432" width="1" height="2" fill="#000"/>
<rect x="162" y="430" width="3" height="4" fill="#fff"/>
<rect x="162" y="431" width="1" height="1" fill="#000"/>
<rect x="163" y="432" width="1" height="2" fill="#000"/>
<rect x="118" y="451" width="3" height="4" fill="#fff"/>
<rect x="120" y="453" width="1" height="1" fill="#000"/>
<rect x="119" y="451" width="1" height="2" fill="#000"/>
<rect x="162" y="451" width="3" height="4" fill="#fff"/>
<rect x="162" y="453" width="1" height="1" fill="#000"/>
<rect x="163" y="451" width="1" height="2" fill="#000"/>
<rect x="757" y="484" width="49" height="27" fill="#000"/>
<rect x="759" y="486" width="45" height="23" fill="#fff"/>
<rect x="758" y="485" width="3" height="4" fill="#fff"/>
<rect x="760" y="486" width="1" height="1" fill="#000"/>
<rect x="759" y="487" width="1" height="2" fill="#000"/>
<rect x="802" y="485" width="3" height="4" fill="#fff"/>
<rect x="802" y="486" width="1" height="1" fill="#000"/>
<rect x="803" y="487" width="1" height="2" fill="#000"/>
<rect x="758" y="506" width="3" height="4" fill="#fff"/>
<rect x="760" y="508" width="1" height="1" fill="#000"/>
<rect x="759" y="506" width="1" height="2" fill="#000"/>
<rect x="802" y="506" width="3" height="4" fill="#fff"/>
<rect x="802" y="508" width="1" height="1" fill="#000"/>
<rect x="803" y="506" width="1" height="2" fill="#000"/>
<path d="M92 526.3L96.3 521.5L105.5 534L104.5 536Z" fill="#000" />
<path d="M48 507L94 507L96 509L96 524L94 526L48 526L46 524L46 509Z" fill="#000" />
<path d="M49 509L92.5 509L93.5 510L93.5 522.2L92.5 523.2L49 523.2L48 522.2L48 510Z" fill="#fff" />
<line x1="94" y1="524.3" x2="101.5" y2="531.6" stroke="#fff" stroke-width="1.2" stroke-linecap="butt"/>
<path d="M105 517L108 514L119 514L119 557.5L108 557.5L105 554.5Z" fill="#000" />
<path d="M106 517.5L108.5 515L117.5 515L117.5 555.5L108.5 555.5L106 553.5Z" fill="#fff" />
<rect x="110" y="517.5" width="5" height="7" fill="#000"/>
<rect x="109" y="518.5" width="7" height="5" fill="#000"/>
<rect x="110" y="527.5" width="5" height="7" fill="#000"/>
<rect x="109" y="528.5" width="7" height="5" fill="#000"/>
<rect x="110" y="537" width="5" height="7" fill="#000"/>
<rect x="109" y="538" width="7" height="5" fill="#000"/>
<rect x="110" y="546" width="5" height="7" fill="#000"/>
<rect x="109" y="547" width="7" height="5" fill="#000"/>
<path d="M119 588.3L122.3 584.5L130 595.5L129 597Z" fill="#000" />
<path d="M83 570L120 570L122 572L122 586L120 588L83 588L81 586L81 572Z" fill="#000" />
<path d="M84 572L118.5 572L119.5 573L119.5 584.5L118.5 585.5L84 585.5L83 584.5L83 573Z" fill="#fff" />
<line x1="121" y1="586.5" x2="126.5" y2="592.5" stroke="#fff" stroke-width="1.2" stroke-linecap="butt"/>
<rect x="131" y="590" width="61" height="12" fill="#000"/>
<rect x="136" y="592" width="1" height="8" fill="#fff"/>
<rect x="142" y="592" width="1" height="8" fill="#fff"/>
<rect x="148" y="592" width="1" height="8" fill="#fff"/>
<rect x="154" y="592" width="1" height="8" fill="#fff"/>
<rect x="160" y="592" width="1" height="8" fill="#fff"/>
<rect x="166" y="592" width="1" height="8" fill="#fff"/>
<rect x="172" y="592" width="1" height="8" fill="#fff"/>
<rect x="177" y="592" width="1" height="8" fill="#fff"/>
<rect x="183" y="592" width="1" height="8" fill="#fff"/>
<rect x="189" y="592" width="1" height="8" fill="#fff"/>
<path d="M206.5 541.3L211.3 537L217.5 546.5L216.5 548Z" fill="#000" />
<path d="M178 523L209 523L211 525L211 539L209 541L178 541L176 539L176 525Z" fill="#000" />
<path d="M179 525L207.5 525L208.5 526L208.5 537.5L207.5 538.5L179 538.5L178 537.5L178 526Z" fill="#fff" />
<line x1="208.8" y1="539.3" x2="214" y2="544.5" stroke="#fff" stroke-width="1.2" stroke-linecap="butt"/>
<rect x="218" y="542" width="101" height="12" fill="#000"/>
<rect x="219" y="548" width="99" height="1" fill="#fff"/>
<rect x="224" y="544" width="1" height="8" fill="#fff"/>
<rect x="230" y="544" width="1" height="8" fill="#fff"/>
<rect x="236" y="544" width="1" height="8" fill="#fff"/>
<rect x="242" y="544" width="1" height="8" fill="#fff"/>
<rect x="248" y="544" width="1" height="8" fill="#fff"/>
<rect x="253" y="544" width="1" height="8" fill="#fff"/>
<rect x="259" y="544" width="1" height="8" fill="#fff"/>
<rect x="265" y="544" width="1" height="8" fill="#fff"/>
<rect x="271" y="544" width="1" height="8" fill="#fff"/>
<rect x="277" y="544" width="1" height="8" fill="#fff"/>
<rect x="282" y="544" width="1" height="8" fill="#fff"/>
<rect x="288" y="544" width="1" height="8" fill="#fff"/>
<rect x="294" y="544" width="1" height="8" fill="#fff"/>
<rect x="300" y="544" width="1" height="8" fill="#fff"/>
<rect x="306" y="544" width="1" height="8" fill="#fff"/>
<rect x="312" y="544" width="1" height="8" fill="#fff"/>
<rect x="317" y="544" width="1" height="8" fill="#fff"/>
<path d="M206.5 569.3L211.3 565.5L217.5 575L216.5 576.5Z" fill="#000" />
<path d="M178 551L209 551L211 553L211 567L209 569L178 569L176 567L176 553Z" fill="#000" />
<path d="M179 553L207.5 553L208.5 554L208.5 565.5L207.5 566.5L179 566.5L178 565.5L178 554Z" fill="#fff" />
<line x1="208.8" y1="567.5" x2="214" y2="573" stroke="#fff" stroke-width="1.2" stroke-linecap="butt"/>
<rect x="218" y="570" width="119" height="12" fill="#000"/>
<rect x="219" y="575" width="117" height="1" fill="#fff"/>
<rect x="219" y="572" width="1" height="8" fill="#fff"/>
<rect x="224" y="572" width="1" height="8" fill="#fff"/>
<rect x="230" y="572" width="1" height="8" fill="#fff"/>
<rect x="236" y="572" width="1" height="8" fill="#fff"/>
<rect x="242" y="572" width="1" height="8" fill="#fff"/>
<rect x="248" y="572" width="1" height="8" fill="#fff"/>
<rect x="253" y="572" width="1" height="8" fill="#fff"/>
<rect x="259" y="572" width="1" height="8" fill="#fff"/>
<rect x="265" y="572" width="1" height="8" fill="#fff"/>
<rect x="271" y="572" width="1" height="8" fill="#fff"/>
<rect x="277" y="572" width="1" height="8" fill="#fff"/>
<rect x="282" y="572" width="1" height="8" fill="#fff"/>
<rect x="288" y="572" width="1" height="8" fill="#fff"/>
<rect x="294" y="572" width="1" height="8" fill="#fff"/>
<rect x="300" y="572" width="1" height="8" fill="#fff"/>
<rect x="306" y="572" width="1" height="8" fill="#fff"/>
<rect x="312" y="572" width="1" height="8" fill="#fff"/>
<rect x="317" y="572" width="1" height="8" fill="#fff"/>
<rect x="323" y="572" width="1" height="8" fill="#fff"/>
<rect x="329" y="572" width="1" height="8" fill="#fff"/>
<rect x="335" y="572" width="1" height="8" fill="#fff"/>
<rect x="216" y="492" width="113" height="24" fill="#000"/>
<rect x="217" y="493" width="111" height="22" fill="#fff"/>
<rect x="216" y="499" width="113" height="1" fill="#000"/>
<rect x="219" y="496" width="7" height="2" fill="#000"/>
<rect x="221" y="495" width="3" height="4" fill="#000"/>
<rect x="219" y="502" width="7" height="3" fill="#000"/>
<rect x="220" y="503" width="5" height="1" fill="#fff"/>
<rect x="228" y="496" width="7" height="2" fill="#000"/>
<rect x="230" y="495" width="3" height="4" fill="#000"/>
<rect x="228" y="502" width="7" height="3" fill="#000"/>
<rect x="229" y="503" width="5" height="1" fill="#fff"/>
<rect x="237" y="496" width="7" height="2" fill="#000"/>
<rect x="239" y="495" width="3" height="4" fill="#000"/>
<rect x="237" y="502" width="7" height="3" fill="#000"/>
<rect x="238" y="503" width="5" height="1" fill="#fff"/>
<rect x="245" y="496" width="7" height="2" fill="#000"/>
<rect x="247" y="495" width="3" height="4" fill="#000"/>
<rect x="245" y="502" width="7" height="3" fill="#000"/>
<rect x="246" y="503" width="5" height="1" fill="#fff"/>
<rect x="255" y="496" width="7" height="2" fill="#000"/>
<rect x="257" y="495" width="3" height="4" fill="#000"/>
<rect x="255" y="502" width="7" height="3" fill="#000"/>
<rect x="256" y="503" width="5" height="1" fill="#fff"/>
<rect x="264" y="496" width="7" height="2" fill="#000"/>
<rect x="266" y="495" width="3" height="4" fill="#000"/>
<rect x="264" y="502" width="7" height="3" fill="#000"/>
<rect x="265" y="503" width="5" height="1" fill="#fff"/>
<rect x="274" y="496" width="7" height="2" fill="#000"/>
<rect x="276" y="495" width="3" height="4" fill="#000"/>
<rect x="274" y="502" width="7" height="3" fill="#000"/>
<rect x="275" y="503" width="5" height="1" fill="#fff"/>
<rect x="283" y="496" width="7" height="2" fill="#000"/>
<rect x="285" y="495" width="3" height="4" fill="#000"/>
<rect x="283" y="502" width="7" height="3" fill="#000"/>
<rect x="284" y="503" width="5" height="1" fill="#fff"/>
<rect x="292" y="496" width="7" height="2" fill="#000"/>
<rect x="294" y="495" width="3" height="4" fill="#000"/>
<rect x="292" y="502" width="7" height="3" fill="#000"/>
<rect x="293" y="503" width="5" height="1" fill="#fff"/>
<rect x="301" y="496" width="7" height="2" fill="#000"/>
<rect x="303" y="495" width="3" height="4" fill="#000"/>
<rect x="301" y="502" width="7" height="3" fill="#000"/>
<rect x="302" y="503" width="5" height="1" fill="#fff"/>
<rect x="311" y="496" width="7" height="2" fill="#000"/>
<rect x="313" y="495" width="3" height="4" fill="#000"/>
<rect x="311" y="502" width="7" height="3" fill="#000"/>
<rect x="312" y="503" width="5" height="1" fill="#fff"/>
<rect x="320" y="496" width="7" height="2" fill="#000"/>
<rect x="322" y="495" width="3" height="4" fill="#000"/>
<rect x="320" y="502" width="7" height="3" fill="#000"/>
<rect x="321" y="503" width="5" height="1" fill="#fff"/>
<rect x="222" y="506" width="7" height="8" fill="#000"/>
<rect x="223" y="507" width="5" height="6" fill="#fff"/>
<rect x="232" y="506" width="7" height="8" fill="#000"/>
<rect x="233" y="507" width="5" height="6" fill="#fff"/>
<rect x="241" y="506" width="7" height="8" fill="#000"/>
<rect x="242" y="507" width="5" height="6" fill="#fff"/>
<rect x="250" y="506" width="7" height="8" fill="#000"/>
<rect x="251" y="507" width="5" height="6" fill="#fff"/>
<rect x="260" y="506" width="7" height="8" fill="#000"/>
<rect x="261" y="507" width="5" height="6" fill="#fff"/>
<rect x="269" y="506" width="7" height="8" fill="#000"/>
<rect x="270" y="507" width="5" height="6" fill="#fff"/>
<rect x="279" y="506" width="7" height="8" fill="#000"/>
<rect x="280" y="507" width="5" height="6" fill="#fff"/>
<rect x="288" y="506" width="7" height="8" fill="#000"/>
<rect x="289" y="507" width="5" height="6" fill="#fff"/>
<rect x="297" y="506" width="7" height="8" fill="#000"/>
<rect x="298" y="507" width="5" height="6" fill="#fff"/>
<rect x="307" y="506" width="7" height="8" fill="#000"/>
<rect x="308" y="507" width="5" height="6" fill="#fff"/>
<rect x="316" y="506" width="7" height="8" fill="#000"/>
<rect x="317" y="507" width="5" height="6" fill="#fff"/>
<rect x="216" y="505" width="3" height="3" fill="#000"/>
<rect x="217" y="506" width="1" height="1" fill="#fff"/>
<rect x="216" y="509" width="3" height="3" fill="#000"/>
<rect x="217" y="510" width="1" height="1" fill="#fff"/>
<rect x="326" y="505" width="3" height="3" fill="#000"/>
<rect x="327" y="506" width="1" height="1" fill="#fff"/>
<rect x="326" y="509" width="3" height="3" fill="#000"/>
<rect x="327" y="510" width="1" height="1" fill="#fff"/>
<rect x="703" y="529" width="126" height="43" fill="#000"/>
<rect x="706" y="531" width="3" height="1" fill="#fff"/>
<rect x="712" y="531" width="3" height="1" fill="#fff"/>
<rect x="718" y="531" width="3" height="1" fill="#fff"/>
<rect x="725" y="531" width="3" height="1" fill="#fff"/>
<rect x="731" y="531" width="3" height="1" fill="#fff"/>
<rect x="737" y="531" width="3" height="1" fill="#fff"/>
<rect x="743" y="531" width="3" height="1" fill="#fff"/>
<rect x="749" y="531" width="3" height="1" fill="#fff"/>
<rect x="756" y="531" width="3" height="1" fill="#fff"/>
<rect x="762" y="531" width="3" height="1" fill="#fff"/>
<rect x="768" y="531" width="3" height="1" fill="#fff"/>
<rect x="774" y="531" width="3" height="1" fill="#fff"/>
<rect x="780" y="531" width="3" height="1" fill="#fff"/>
<rect x="787" y="531" width="3" height="1" fill="#fff"/>
<rect x="793" y="531" width="3" height="1" fill="#fff"/>
<rect x="799" y="531" width="3" height="1" fill="#fff"/>
<rect x="805" y="531" width="3" height="1" fill="#fff"/>
<rect x="811" y="531" width="3" height="1" fill="#fff"/>
<rect x="818" y="531" width="3" height="1" fill="#fff"/>
<rect x="824" y="531" width="3" height="1" fill="#fff"/>
<rect x="827" y="545" width="2" height="11" fill="#fff"/>
<path d="M754 543L778 543L780 545L780 556L778 558L754 558L752 556L752 545Z" fill="#fff" />
<rect x="877" y="387" width="25" height="91" fill="#000"/>
<rect x="886" y="477" width="16" height="6" fill="#000"/>
<rect x="901" y="376" width="4" height="112" fill="#000"/>
<rect x="904" y="376" width="4" height="112" fill="#000"/>
<rect x="905" y="377" width="2" height="110" fill="#fff"/>
<rect x="897" y="378" width="5" height="6" fill="#000"/>
<rect x="898" y="379" width="3" height="4" fill="#fff"/>
<rect x="897" y="480" width="6" height="7" fill="#000"/>
<rect x="898" y="481" width="4" height="5" fill="#fff"/>
<rect x="907" y="387" width="14" height="91" fill="#000"/>
<rect x="908" y="388" width="12" height="89" fill="#fff"/>
<rect x="920" y="391" width="10" height="91" fill="#000"/>
<rect x="921" y="392" width="8" height="89" fill="#fff"/>
<rect x="907" y="387" width="1" height="91" fill="#000"/>
<rect x="907" y="377" width="9" height="7" fill="#000"/>
<rect x="908" y="378" width="7" height="5" fill="#fff"/>
<rect x="910" y="383" width="4" height="5" fill="#000"/>
<rect x="915" y="383" width="9" height="6" fill="#000"/>
<rect x="916" y="384" width="7" height="4" fill="#fff"/>
<rect x="915" y="367" width="2" height="17" fill="#000"/>
<rect x="906" y="477" width="10" height="4" fill="#000"/>
<rect x="914" y="478" width="1" height="2" fill="#fff"/>
<rect x="906" y="480" width="10" height="7" fill="#000"/>
<rect x="907" y="481" width="8" height="5" fill="#fff"/>
<rect x="915" y="485" width="9" height="6" fill="#000"/>
<rect x="916" y="486" width="7" height="4" fill="#fff"/>
<rect x="906" y="486" width="5" height="5" fill="#000"/>
<rect x="907" y="487" width="3" height="3" fill="#fff"/>
<rect x="910" y="486" width="5" height="7" fill="#000"/>
<rect x="915" y="490" width="2" height="9" fill="#000"/>
<rect x="875" y="499" width="34" height="40" fill="#000"/>
<rect x="876" y="500" width="32" height="38" fill="#fff"/>
<rect x="908" y="499" width="9" height="40" fill="#000"/>
<rect x="885" y="551" width="32" height="37" fill="#000"/>
<rect x="909" y="546" width="8" height="46" fill="#000"/>
<rect x="912" y="544" width="5" height="50" fill="#000"/>
<rect x="878" y="559" width="5" height="9" fill="#000"/>
<rect x="879" y="560" width="3" height="7" fill="#fff"/>
<rect x="878" y="570" width="5" height="9" fill="#000"/>
<rect x="879" y="571" width="3" height="7" fill="#fff"/>
<rect x="882" y="557" width="4" height="24" fill="#000"/>
<rect x="883" y="558" width="2" height="22" fill="#fff"/>
<rect x="884" y="561" width="1" height="1" fill="#000"/>
<rect x="884" y="563" width="1" height="1" fill="#000"/>
<rect x="884" y="565" width="1" height="1" fill="#000"/>
<rect x="884" y="573" width="1" height="1" fill="#000"/>
<rect x="884" y="575" width="1" height="1" fill="#000"/>
<rect x="884" y="577" width="1" height="1" fill="#000"/>
<rect x="883" y="568" width="2" height="3" fill="#000"/>
<path d="M826 397L858 397L860 399L860 414L858 416L826 416L824 414L824 399Z" fill="#000" />
<path d="M827 399L856.5 399L857.5 400L857.5 412.5L856.5 413.5L827 413.5L826 412.5L826 400Z" fill="#fff" />
<path d="M875 405.8L870.95 405.2L867.05 404.2L861.95 403L858 402.5L858 410.7L861.95 410.2L867.05 409.2L870.95 408.2L875 407.8Z" fill="#000" />
<path d="M867.5 406.8L864.05 405.8L860 404.7L857 404.7L857 408.7L860 408.7L864.05 407.8Z" fill="#fff" />
<path d="M834 429L866 429L868 431L868 446L866 448L834 448L832 446L832 431Z" fill="#000" />
<path d="M835 431L864.5 431L865.5 432L865.5 444.5L864.5 445.5L835 445.5L834 444.5L834 432Z" fill="#fff" />
<path d="M877 437.3L874.57 436.7L872.23 435.7L869.17 434.5L866 434L866 442.2L869.17 441.7L872.23 440.7L874.57 439.7L877 439.3Z" fill="#000" />
<path d="M872.5 438.3L870.43 437.3L868 436.2L865 436.2L865 440.2L868 440.2L870.43 439.3Z" fill="#fff" />
<path d="M863.5 514L868.3 510.5L875.5 519.5L874 521Z" fill="#000" />
<path d="M836 495L866 495L868 497L868 512L866 514L836 514L834 512L834 497Z" fill="#000" />
<path d="M837 497L864.5 497L865.5 498L865.5 510.5L864.5 511.5L837 511.5L836 510.5L836 498Z" fill="#fff" />
<line x1="866" y1="512.3" x2="871" y2="517" stroke="#fff" stroke-width="1.2" stroke-linecap="butt"/>
</g>
<g opacity="0.999" style="will-change:opacity">
<text transform="translate(74.3 73.6) scale(0.74 1)" x="0" y="0" font-size="12.48" fill="#000" textLength="62.57" lengthAdjust="spacing" >BANK 0</text>
<text transform="translate(232.8 158.8) scale(0.74 1)" x="0" y="0" font-size="13.03" fill="#000" textLength="62.43" lengthAdjust="spacing" >BANK 1</text>
<text transform="translate(786.2 84.7) scale(0.8 1)" x="0" y="0" font-size="13.03" fill="#000" textLength="18.5" lengthAdjust="spacing" >S1</text>
<text transform="translate(830.2 131.7) scale(0.8 1)" x="0" y="0" font-size="13.03" fill="#000" textLength="17.25" lengthAdjust="spacing" >S2</text>
<text transform="translate(809.2 176.7) scale(0.8 1)" x="0" y="0" font-size="13.03" fill="#000" textLength="18.5" lengthAdjust="spacing" >S3</text>
<text transform="translate(809.2 216.7) scale(0.8 1)" x="0" y="0" font-size="13.03" fill="#000" textLength="18.5" lengthAdjust="spacing" >S4</text>
<text transform="translate(830.2 259.7) scale(0.8 1)" x="0" y="0" font-size="13.03" fill="#000" textLength="18.5" lengthAdjust="spacing" >S5</text>
<text transform="translate(786.2 305.7) scale(0.8 1)" x="0" y="0" font-size="13.03" fill="#000" textLength="18.5" lengthAdjust="spacing" >S6</text>
<text transform="translate(411.2 47.7) scale(0.74 1)" x="0" y="0" font-size="12.89" fill="#000" textLength="35.68" lengthAdjust="spacing" >MEM</text>
<text transform="translate(403 340.6) scale(0.74 1)" x="0" y="0" font-size="13.17" fill="#000" textLength="34.59" lengthAdjust="spacing" >CPU</text>
<text transform="translate(682.7 106.9) scale(0.78 1)" x="0" y="0" font-size="12.3" fill="#000" textLength="55" lengthAdjust="spacing" >MH1216</text>
<text transform="translate(53.8 207.9) scale(0.74 1)" x="0" y="0" font-size="13.17" fill="#000" textLength="30.68" lengthAdjust="spacing" >LED</text>
<text transform="translate(52 270) scale(0.74 1)" x="0" y="0" font-size="13.17" fill="#000" textLength="34.46" lengthAdjust="spacing" >SPK</text>
<text transform="translate(52.9 334.7) scale(0.74 1)" x="0" y="0" font-size="13.31" fill="#000" textLength="32.3" lengthAdjust="spacing" >FAN</text>
<text transform="translate(51.7 520) scale(0.74 1)" x="0" y="0" font-size="13.44" fill="#000" textLength="50.14" lengthAdjust="spacing" >DPWR</text>
<text transform="translate(86.9 583) scale(0.74 1)" x="0" y="0" font-size="13.03" fill="#000" textLength="41.22" lengthAdjust="spacing" >DIAG</text>
<text transform="translate(181 535.7) scale(0.74 1)" x="0" y="0" font-size="12.48" fill="#000" textLength="33.78" lengthAdjust="spacing" >FDD</text>
<text transform="translate(183.4 563.7) scale(0.74 1)" x="0" y="0" font-size="12.48" fill="#000" textLength="27.16" lengthAdjust="spacing" >IDE</text>
<text transform="translate(753.8 554.5) scale(0.74 1)" x="0" y="0" font-size="12.6" fill="#000" textLength="32.43" lengthAdjust="spacing" >KBD</text>
<text transform="translate(829.7 410.9) scale(0.74 1)" x="0" y="0" font-size="13.31" fill="#000" textLength="33.51" lengthAdjust="spacing" >C N1</text>
<text transform="translate(836.7 441.4) scale(0.74 1)" x="0" y="0" font-size="13.03" fill="#000" textLength="33.38" lengthAdjust="spacing" >C N2</text>
<text transform="translate(838 507.8) scale(0.74 1)" x="0" y="0" font-size="13.44" fill="#000" textLength="33.11" lengthAdjust="spacing" >CN3</text>
</g>
</svg>
</body></html>
